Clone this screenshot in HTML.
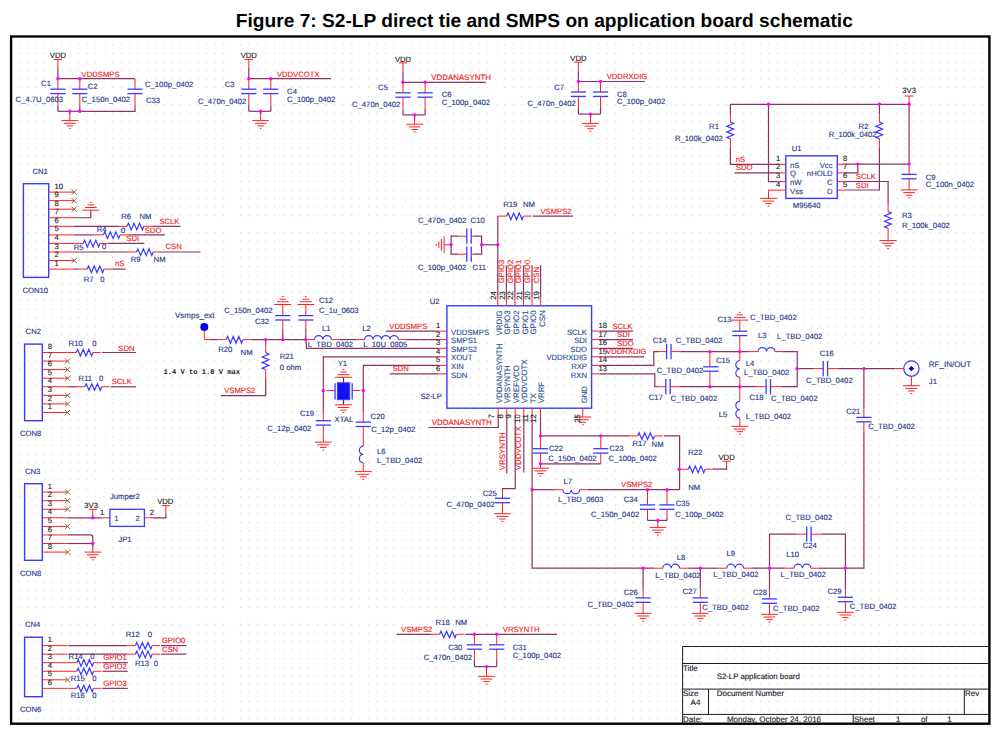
<!DOCTYPE html>
<html><head><meta charset="utf-8"><title>Figure 7</title>
<style>
html,body{margin:0;padding:0;background:#fff}
svg{display:block}
svg text{font-family:"Liberation Sans",Arial,sans-serif;font-size:7.7px;stroke-width:0.14px;paint-order:stroke;text-rendering:geometricPrecision}
</style></head><body>
<svg width="999" height="733" viewBox="0 0 999 733">
<defs><pattern id="g" x="18.4" y="44.4" width="8.522" height="8.525" patternUnits="userSpaceOnUse"><rect x="0" y="0" width="1.1" height="1.1" fill="#d2d2d2"/></pattern></defs>
<rect width="999" height="733" fill="#fff"/>
<rect x="18" y="44" width="965.5" height="675.5" fill="url(#g)"/>
<text x="235.8" y="26.6" style="font-size:19px;font-weight:bold;stroke-width:0" fill="#000" textLength="617" lengthAdjust="spacingAndGlyphs">Figure 7: S2-LP direct tie and SMPS on application board schematic</text>
<rect x="11.1" y="36.5" width="978.3" height="687.2" fill="none" stroke="#000" stroke-width="2.4"/>
<path d="M682.6 723 L682.6 646.5 L988.5 646.5" stroke="#1a1a1a" stroke-width="1" fill="none"/>
<path d="M682.6 663.5 L988.5 663.5" stroke="#1a1a1a" stroke-width="1" fill="none"/>
<path d="M682.6 689.1 L988.5 689.1" stroke="#1a1a1a" stroke-width="1" fill="none"/>
<path d="M682.6 714.4 L988.5 714.4" stroke="#1a1a1a" stroke-width="1" fill="none"/>
<path d="M708.5 689.1 L708.5 714.4" stroke="#1a1a1a" stroke-width="1" fill="none"/>
<path d="M964.3 689.1 L964.3 714.4" stroke="#1a1a1a" stroke-width="1" fill="none"/>
<path d="M853.2 714.4 L853.2 723" stroke="#1a1a1a" stroke-width="1" fill="none"/>
<text x="683" y="670.8" fill="#1c1c30" stroke="#1c1c30" style="font-size:8px">Title</text>
<text x="716.7" y="678.5" fill="#1c1c30" stroke="#1c1c30" style="font-size:7.8px">S2-LP application board</text>
<text x="683" y="696.4" fill="#1c1c30" stroke="#1c1c30" style="font-size:8px">Size</text>
<text x="690.6" y="704.9" fill="#1c1c30" stroke="#1c1c30" style="font-size:8px">A4</text>
<text x="716.7" y="696.4" fill="#1c1c30" stroke="#1c1c30" style="font-size:8px">Document Number</text>
<text x="965" y="696.4" fill="#1c1c30" stroke="#1c1c30" style="font-size:8px">Rev</text>
<text x="683" y="721.9" fill="#1c1c30" stroke="#1c1c30" style="font-size:8px">Date:</text>
<text x="726.9" y="721.9" fill="#1c1c30" stroke="#1c1c30" style="font-size:8px">Monday, October 24, 2016</text>
<text x="853.9" y="721.9" fill="#1c1c30" stroke="#1c1c30" style="font-size:8px">Sheet</text>
<text x="895.9" y="721.9" fill="#1c1c30" stroke="#1c1c30" style="font-size:8px">1</text>
<text x="920.9" y="721.9" fill="#1c1c30" stroke="#1c1c30" style="font-size:8px">of</text>
<text x="947.3" y="721.9" fill="#1c1c30" stroke="#1c1c30" style="font-size:8px">1</text>
<path d="M53.8 59.5 L62 59.5" stroke="#ff2020" stroke-width="1" fill="none"/>
<path d="M57.9 59.5 L57.9 68.1" stroke="#ff2020" stroke-width="1" fill="none"/>
<text x="57.9" y="58.1" text-anchor="middle" fill="#222" stroke="#222" stroke-width="0.06">VDD</text>
<path d="M57.9 68.1 L57.9 78.7" stroke="#8a3262" stroke-width="1.2" fill="none"/>
<path d="M57.9 78.7 L135 78.7" stroke="#8a3262" stroke-width="1.2" fill="none"/>
<path d="M57.9 78.7 L57.9 89.2" stroke="#ff2020" stroke-width="1" fill="none"/>
<path d="M50.3 89.2 L65.5 89.2" stroke="#3a3aff" stroke-width="1.3" fill="none"/>
<path d="M50.3 93.6 L65.5 93.6" stroke="#3a3aff" stroke-width="1.3" fill="none"/>
<path d="M57.9 93.6 L57.9 105.2" stroke="#ff2020" stroke-width="1" fill="none"/>
<path d="M57.9 105.2 L57.9 111.3" stroke="#8a3262" stroke-width="1.2" fill="none"/>
<path d="M79.8 78.7 L79.8 89.2" stroke="#ff2020" stroke-width="1" fill="none"/>
<path d="M72.2 89.2 L87.4 89.2" stroke="#3a3aff" stroke-width="1.3" fill="none"/>
<path d="M72.2 93.6 L87.4 93.6" stroke="#3a3aff" stroke-width="1.3" fill="none"/>
<path d="M79.8 93.6 L79.8 105.2" stroke="#ff2020" stroke-width="1" fill="none"/>
<path d="M79.8 105.2 L79.8 111.3" stroke="#8a3262" stroke-width="1.2" fill="none"/>
<path d="M57.9 111.3 L79.8 111.3" stroke="#8a3262" stroke-width="1.2" fill="none"/>
<path d="M69.8 111.3 L69.8 115.3" stroke="#8a3262" stroke-width="1.2" fill="none"/>
<path d="M69.8 115.3 L69.8 120.6" stroke="#ff2020" stroke-width="1" fill="none"/>
<path d="M61.4 120.6 L78.2 120.6" stroke="#ff2020" stroke-width="1" fill="none"/>
<path d="M64 123.3 L75.6 123.3" stroke="#ff2020" stroke-width="1" fill="none"/>
<path d="M66.6 125.9 L73 125.9" stroke="#ff2020" stroke-width="1" fill="none"/>
<path d="M68.9 128.4 L70.7 128.4" stroke="#ff2020" stroke-width="1" fill="none"/>
<path d="M135 78.7 L135 89.2" stroke="#ff2020" stroke-width="1" fill="none"/>
<path d="M127.4 89.2 L142.6 89.2" stroke="#3a3aff" stroke-width="1.3" fill="none"/>
<path d="M127.4 93.6 L142.6 93.6" stroke="#3a3aff" stroke-width="1.3" fill="none"/>
<path d="M135 93.6 L135 105.2" stroke="#ff2020" stroke-width="1" fill="none"/>
<path d="M135 105.2 L135 111.3 L79.8 111.3" stroke="#8a3262" stroke-width="1.2" fill="none"/>
<text x="41.1" y="86.2" fill="#26368a" stroke="#26368a">C1</text>
<text x="87.8" y="88.6" fill="#26368a" stroke="#26368a">C2</text>
<text x="81.6" y="76.7" fill="#f02222" stroke="#f02222">VDDSMPS</text>
<text x="15.6" y="102.2" fill="#26368a" stroke="#26368a">C_4.7U_0603</text>
<text x="81.8" y="102.2" fill="#26368a" stroke="#26368a">C_150n_0402</text>
<text x="145" y="86.8" fill="#26368a" stroke="#26368a">C_100p_0402</text>
<text x="146" y="103.2" fill="#26368a" stroke="#26368a">C33</text>
<path d="M244.7 59.5 L252.9 59.5" stroke="#ff2020" stroke-width="1" fill="none"/>
<path d="M248.8 59.5 L248.8 68.1" stroke="#ff2020" stroke-width="1" fill="none"/>
<text x="248.8" y="58.1" text-anchor="middle" fill="#222" stroke="#222" stroke-width="0.06">VDD</text>
<path d="M248.8 68.1 L248.8 78.7" stroke="#8a3262" stroke-width="1.2" fill="none"/>
<path d="M248.8 78.7 L331 78.7" stroke="#8a3262" stroke-width="1.2" fill="none"/>
<path d="M248.8 78.7 L248.8 89.2" stroke="#ff2020" stroke-width="1" fill="none"/>
<path d="M241.2 89.2 L256.4 89.2" stroke="#3a3aff" stroke-width="1.3" fill="none"/>
<path d="M241.2 93.6 L256.4 93.6" stroke="#3a3aff" stroke-width="1.3" fill="none"/>
<path d="M248.8 93.6 L248.8 105.2" stroke="#ff2020" stroke-width="1" fill="none"/>
<path d="M248.8 105.2 L248.8 111.3" stroke="#8a3262" stroke-width="1.2" fill="none"/>
<path d="M270.8 78.7 L270.8 89.2" stroke="#ff2020" stroke-width="1" fill="none"/>
<path d="M263.2 89.2 L278.4 89.2" stroke="#3a3aff" stroke-width="1.3" fill="none"/>
<path d="M263.2 93.6 L278.4 93.6" stroke="#3a3aff" stroke-width="1.3" fill="none"/>
<path d="M270.8 93.6 L270.8 105.2" stroke="#ff2020" stroke-width="1" fill="none"/>
<path d="M270.8 105.2 L270.8 111.3" stroke="#8a3262" stroke-width="1.2" fill="none"/>
<path d="M248.8 111.3 L270.8 111.3" stroke="#8a3262" stroke-width="1.2" fill="none"/>
<path d="M260.6 111.3 L260.6 115.3" stroke="#8a3262" stroke-width="1.2" fill="none"/>
<path d="M260.6 115.3 L260.6 120.6" stroke="#ff2020" stroke-width="1" fill="none"/>
<path d="M252.2 120.6 L269 120.6" stroke="#ff2020" stroke-width="1" fill="none"/>
<path d="M254.8 123.3 L266.4 123.3" stroke="#ff2020" stroke-width="1" fill="none"/>
<path d="M257.4 125.9 L263.8 125.9" stroke="#ff2020" stroke-width="1" fill="none"/>
<path d="M259.7 128.4 L261.5 128.4" stroke="#ff2020" stroke-width="1" fill="none"/>
<text x="276.9" y="76.7" fill="#f02222" stroke="#f02222">VDDVCOTX</text>
<text x="224.7" y="86.8" fill="#26368a" stroke="#26368a">C3</text>
<text x="287.1" y="93.8" fill="#26368a" stroke="#26368a">C4</text>
<text x="287.1" y="102.2" fill="#26368a" stroke="#26368a">C_100p_0402</text>
<text x="198" y="103.8" fill="#26368a" stroke="#26368a">C_470n_0402</text>
<path d="M398.9 62.9 L407.1 62.9" stroke="#ff2020" stroke-width="1" fill="none"/>
<path d="M403 62.9 L403 71.5" stroke="#ff2020" stroke-width="1" fill="none"/>
<text x="403" y="61.5" text-anchor="middle" fill="#222" stroke="#222" stroke-width="0.06">VDD</text>
<path d="M403 71.5 L403 82.3" stroke="#8a3262" stroke-width="1.2" fill="none"/>
<path d="M403 82.3 L485.8 82.3" stroke="#8a3262" stroke-width="1.2" fill="none"/>
<path d="M403 82.3 L403 92.8" stroke="#ff2020" stroke-width="1" fill="none"/>
<path d="M395.4 92.8 L410.6 92.8" stroke="#3a3aff" stroke-width="1.3" fill="none"/>
<path d="M395.4 97.2 L410.6 97.2" stroke="#3a3aff" stroke-width="1.3" fill="none"/>
<path d="M403 97.2 L403 108.8" stroke="#ff2020" stroke-width="1" fill="none"/>
<path d="M403 108.8 L403 114.9" stroke="#8a3262" stroke-width="1.2" fill="none"/>
<path d="M425.1 82.3 L425.1 92.8" stroke="#ff2020" stroke-width="1" fill="none"/>
<path d="M417.5 92.8 L432.7 92.8" stroke="#3a3aff" stroke-width="1.3" fill="none"/>
<path d="M417.5 97.2 L432.7 97.2" stroke="#3a3aff" stroke-width="1.3" fill="none"/>
<path d="M425.1 97.2 L425.1 108.8" stroke="#ff2020" stroke-width="1" fill="none"/>
<path d="M425.1 108.8 L425.1 114.9" stroke="#8a3262" stroke-width="1.2" fill="none"/>
<path d="M403 114.9 L425.1 114.9" stroke="#8a3262" stroke-width="1.2" fill="none"/>
<path d="M414.6 114.9 L414.6 118.9" stroke="#8a3262" stroke-width="1.2" fill="none"/>
<path d="M414.6 118.9 L414.6 124.2" stroke="#ff2020" stroke-width="1" fill="none"/>
<path d="M406.2 124.2 L423 124.2" stroke="#ff2020" stroke-width="1" fill="none"/>
<path d="M408.8 126.9 L420.4 126.9" stroke="#ff2020" stroke-width="1" fill="none"/>
<path d="M411.4 129.5 L417.8 129.5" stroke="#ff2020" stroke-width="1" fill="none"/>
<path d="M413.7 132 L415.5 132" stroke="#ff2020" stroke-width="1" fill="none"/>
<text x="431.3" y="80.1" fill="#f02222" stroke="#f02222" style="font-size:7.9px">VDDANASYNTH</text>
<text x="378.1" y="90.2" fill="#26368a" stroke="#26368a">C5</text>
<text x="441.7" y="97.4" fill="#26368a" stroke="#26368a">C6</text>
<text x="441.7" y="105.2" fill="#26368a" stroke="#26368a">C_100p_0402</text>
<text x="352" y="107.2" fill="#26368a" stroke="#26368a">C_470n_0402</text>
<path d="M574.3 62.1 L582.5 62.1" stroke="#ff2020" stroke-width="1" fill="none"/>
<path d="M578.4 62.1 L578.4 70.7" stroke="#ff2020" stroke-width="1" fill="none"/>
<text x="578.4" y="60.7" text-anchor="middle" fill="#222" stroke="#222" stroke-width="0.06">VDD</text>
<path d="M578.4 70.7 L578.4 81.5" stroke="#8a3262" stroke-width="1.2" fill="none"/>
<path d="M578.4 81.5 L644.8 81.5" stroke="#8a3262" stroke-width="1.2" fill="none"/>
<path d="M578.4 81.5 L578.4 92" stroke="#ff2020" stroke-width="1" fill="none"/>
<path d="M570.8 92 L586 92" stroke="#3a3aff" stroke-width="1.3" fill="none"/>
<path d="M570.8 96.4 L586 96.4" stroke="#3a3aff" stroke-width="1.3" fill="none"/>
<path d="M578.4 96.4 L578.4 108" stroke="#ff2020" stroke-width="1" fill="none"/>
<path d="M578.4 108 L578.4 114.1" stroke="#8a3262" stroke-width="1.2" fill="none"/>
<path d="M600.5 81.5 L600.5 92" stroke="#ff2020" stroke-width="1" fill="none"/>
<path d="M592.9 92 L608.1 92" stroke="#3a3aff" stroke-width="1.3" fill="none"/>
<path d="M592.9 96.4 L608.1 96.4" stroke="#3a3aff" stroke-width="1.3" fill="none"/>
<path d="M600.5 96.4 L600.5 108" stroke="#ff2020" stroke-width="1" fill="none"/>
<path d="M600.5 108 L600.5 114.1" stroke="#8a3262" stroke-width="1.2" fill="none"/>
<path d="M578.4 114.1 L600.5 114.1" stroke="#8a3262" stroke-width="1.2" fill="none"/>
<path d="M590.5 114.1 L590.5 118.1" stroke="#8a3262" stroke-width="1.2" fill="none"/>
<path d="M590.5 118.1 L590.5 123.4" stroke="#ff2020" stroke-width="1" fill="none"/>
<path d="M582.1 123.4 L598.9 123.4" stroke="#ff2020" stroke-width="1" fill="none"/>
<path d="M584.7 126.1 L596.3 126.1" stroke="#ff2020" stroke-width="1" fill="none"/>
<path d="M587.3 128.7 L593.7 128.7" stroke="#ff2020" stroke-width="1" fill="none"/>
<path d="M589.6 131.2 L591.4 131.2" stroke="#ff2020" stroke-width="1" fill="none"/>
<text x="606.7" y="79.1" fill="#f02222" stroke="#f02222">VDDRXDIG</text>
<text x="554.2" y="89.6" fill="#26368a" stroke="#26368a">C7</text>
<text x="617" y="96.8" fill="#26368a" stroke="#26368a">C8</text>
<text x="617" y="104.2" fill="#26368a" stroke="#26368a">C_100p_0402</text>
<text x="527.5" y="106.2" fill="#26368a" stroke="#26368a">C_470n_0402</text>
<path d="M905 96 L913.2 96" stroke="#ff2020" stroke-width="1" fill="none"/>
<path d="M909.1 96 L909.1 104.3" stroke="#ff2020" stroke-width="1" fill="none"/>
<text x="909.1" y="93" text-anchor="middle" fill="#222" stroke="#222" stroke-width="0.06">3V3</text>
<path d="M730.4 114.1 L730.4 104.3 L909.1 104.3 L909.1 164.1" stroke="#8a3262" stroke-width="1.2" fill="none"/>
<path d="M730.4 114.1 L730.4 122.1" stroke="#ff2020" stroke-width="1" fill="none"/>
<path d="M730.4 122.1 L733.56 123.5 L726.83 126.3 L733.56 129.1 L726.83 131.9 L733.56 134.7 L726.83 137.5 L730.4 138.8" stroke="#3a3aff" stroke-width="1.2" fill="none"/>
<path d="M730.4 138.8 L730.4 147.2" stroke="#ff2020" stroke-width="1" fill="none"/>
<path d="M730.4 147.2 L730.4 164.3 L777.4 164.3" stroke="#8a3262" stroke-width="1.2" fill="none"/>
<path d="M734.6 172.9 L777.4 172.9" stroke="#8a3262" stroke-width="1.2" fill="none"/>
<path d="M768.5 104.3 L768.5 181.6 L777.4 181.6" stroke="#8a3262" stroke-width="1.2" fill="none"/>
<path d="M777.4 190.1 L768.5 190.1 L768.5 198.4" stroke="#ff2020" stroke-width="1" fill="none"/>
<path d="M760.1 198.4 L776.9 198.4" stroke="#ff2020" stroke-width="1" fill="none"/>
<path d="M762.7 201.1 L774.3 201.1" stroke="#ff2020" stroke-width="1" fill="none"/>
<path d="M765.3 203.7 L771.7 203.7" stroke="#ff2020" stroke-width="1" fill="none"/>
<path d="M767.6 206.2 L769.4 206.2" stroke="#ff2020" stroke-width="1" fill="none"/>
<rect x="785.8" y="155.8" width="51.5" height="42.6" stroke="#3a3aff" stroke-width="1.4" fill="none"/>
<path d="M777.4 164.3 L785.8 164.3" stroke="#ff2020" stroke-width="1" fill="none"/>
<path d="M837.3 164.3 L845.7 164.3" stroke="#ff2020" stroke-width="1" fill="none"/>
<text x="776" y="160.8" fill="#222" stroke="#222" stroke-width="0.06">1</text>
<text x="843" y="160.8" fill="#222" stroke="#222" stroke-width="0.06">8</text>
<text x="790" y="167.7" fill="#2c4a90" stroke="#2c4a90">nS</text>
<text x="832.5" y="167.7" text-anchor="end" fill="#2c4a90" stroke="#2c4a90">Vcc</text>
<path d="M777.4 172.9 L785.8 172.9" stroke="#ff2020" stroke-width="1" fill="none"/>
<path d="M837.3 172.9 L845.7 172.9" stroke="#ff2020" stroke-width="1" fill="none"/>
<text x="776" y="169.4" fill="#222" stroke="#222" stroke-width="0.06">2</text>
<text x="843" y="169.4" fill="#222" stroke="#222" stroke-width="0.06">7</text>
<text x="790" y="176.3" fill="#2c4a90" stroke="#2c4a90">Q</text>
<text x="832.5" y="176.3" text-anchor="end" fill="#2c4a90" stroke="#2c4a90">nHOLD</text>
<path d="M777.4 181.6 L785.8 181.6" stroke="#ff2020" stroke-width="1" fill="none"/>
<path d="M837.3 181.6 L845.7 181.6" stroke="#ff2020" stroke-width="1" fill="none"/>
<text x="776" y="178.1" fill="#222" stroke="#222" stroke-width="0.06">3</text>
<text x="843" y="178.1" fill="#222" stroke="#222" stroke-width="0.06">6</text>
<text x="790" y="185" fill="#2c4a90" stroke="#2c4a90">nW</text>
<text x="832.5" y="185" text-anchor="end" fill="#2c4a90" stroke="#2c4a90">C</text>
<path d="M777.4 190.1 L785.8 190.1" stroke="#ff2020" stroke-width="1" fill="none"/>
<path d="M837.3 190.1 L845.7 190.1" stroke="#ff2020" stroke-width="1" fill="none"/>
<text x="776" y="186.6" fill="#222" stroke="#222" stroke-width="0.06">4</text>
<text x="843" y="186.6" fill="#222" stroke="#222" stroke-width="0.06">5</text>
<text x="790" y="193.5" fill="#2c4a90" stroke="#2c4a90">Vss</text>
<text x="832.5" y="193.5" text-anchor="end" fill="#2c4a90" stroke="#2c4a90">D</text>
<text x="791.8" y="151.2" fill="#26368a" stroke="#26368a">U1</text>
<text x="792.8" y="208.4" fill="#26368a" stroke="#26368a">M95640</text>
<text x="735.8" y="161.8" fill="#f02222" stroke="#f02222">nS</text>
<text x="735.8" y="170.3" fill="#f02222" stroke="#f02222">SDO</text>
<text x="709.1" y="128.7" fill="#26368a" stroke="#26368a">R1</text>
<text x="675" y="141.4" fill="#26368a" stroke="#26368a">R_100k_0402</text>
<path d="M845.7 164.1 L909.1 164.1" stroke="#8a3262" stroke-width="1.2" fill="none"/>
<path d="M857.8 164.1 L857.8 172.8 L845.7 172.8" stroke="#8a3262" stroke-width="1.2" fill="none"/>
<path d="M845.7 181.5 L888.1 181.5 L888.1 203.7" stroke="#8a3262" stroke-width="1.2" fill="none"/>
<path d="M845.7 190 L879.4 190 L879.4 147.2" stroke="#8a3262" stroke-width="1.2" fill="none"/>
<path d="M879.4 104.3 L879.4 114.1" stroke="#8a3262" stroke-width="1.2" fill="none"/>
<path d="M879.4 114.1 L879.4 122.1" stroke="#ff2020" stroke-width="1" fill="none"/>
<path d="M879.4 122.1 L882.56 123.5 L875.83 126.3 L882.56 129.1 L875.83 131.9 L882.56 134.7 L875.83 137.5 L879.4 138.8" stroke="#3a3aff" stroke-width="1.2" fill="none"/>
<path d="M879.4 138.8 L879.4 147.2" stroke="#ff2020" stroke-width="1" fill="none"/>
<path d="M888.1 203.7 L888.1 211.5" stroke="#ff2020" stroke-width="1" fill="none"/>
<path d="M888.1 211.5 L891.26 212.9 L884.53 215.7 L891.26 218.5 L884.53 221.3 L891.26 224.1 L884.53 226.9 L888.1 228.2" stroke="#3a3aff" stroke-width="1.2" fill="none"/>
<path d="M888.1 228.2 L888.1 240.6" stroke="#ff2020" stroke-width="1" fill="none"/>
<path d="M879.7 240.6 L896.5 240.6" stroke="#ff2020" stroke-width="1" fill="none"/>
<path d="M882.3 243.3 L893.9 243.3" stroke="#ff2020" stroke-width="1" fill="none"/>
<path d="M884.9 245.9 L891.3 245.9" stroke="#ff2020" stroke-width="1" fill="none"/>
<path d="M887.2 248.4 L889 248.4" stroke="#ff2020" stroke-width="1" fill="none"/>
<path d="M909.1 164.1 L909.1 174.4" stroke="#ff2020" stroke-width="1" fill="none"/>
<path d="M901.5 174.4 L916.7 174.4" stroke="#3a3aff" stroke-width="1.3" fill="none"/>
<path d="M901.5 178.8 L916.7 178.8" stroke="#3a3aff" stroke-width="1.3" fill="none"/>
<path d="M909.1 178.8 L909.1 189.9" stroke="#ff2020" stroke-width="1" fill="none"/>
<path d="M900.7 189.9 L917.5 189.9" stroke="#ff2020" stroke-width="1" fill="none"/>
<path d="M903.3 192.6 L914.9 192.6" stroke="#ff2020" stroke-width="1" fill="none"/>
<path d="M905.9 195.2 L912.3 195.2" stroke="#ff2020" stroke-width="1" fill="none"/>
<path d="M908.2 197.7 L910 197.7" stroke="#ff2020" stroke-width="1" fill="none"/>
<text x="855.8" y="179.1" fill="#f02222" stroke="#f02222">SCLK</text>
<text x="855.8" y="187.5" fill="#f02222" stroke="#f02222">SDI</text>
<text x="858.6" y="128.7" fill="#26368a" stroke="#26368a">R2</text>
<text x="828.7" y="137" fill="#26368a" stroke="#26368a">R_100k_0402</text>
<text x="925.8" y="179.7" fill="#26368a" stroke="#26368a">C9</text>
<text x="925.8" y="187.3" fill="#26368a" stroke="#26368a">C_100n_0402</text>
<text x="901.9" y="218.2" fill="#26368a" stroke="#26368a">R3</text>
<text x="901.9" y="228.1" fill="#26368a" stroke="#26368a">R_100k_0402</text>
<rect x="23.4" y="183.7" width="25.3" height="93.7" stroke="#3a3aff" stroke-width="1.4" fill="none"/>
<path d="M48.7 192.1 L74.2 192.1" stroke="#ff2020" stroke-width="1" fill="none"/>
<text x="54.5" y="188.7" fill="#222" stroke="#222" stroke-width="0.06">10</text>
<path d="M71.6 189.5 L76.8 194.7" stroke="#7a5a20" stroke-width="0.9" fill="none"/>
<path d="M71.6 194.7 L76.8 189.5" stroke="#7a5a20" stroke-width="0.9" fill="none"/>
<path d="M48.7 200.66 L74.2 200.66" stroke="#ff2020" stroke-width="1" fill="none"/>
<text x="54.5" y="197.25" fill="#222" stroke="#222" stroke-width="0.06">9</text>
<path d="M71.6 198.06 L76.8 203.25" stroke="#7a5a20" stroke-width="0.9" fill="none"/>
<path d="M71.6 203.25 L76.8 198.06" stroke="#7a5a20" stroke-width="0.9" fill="none"/>
<path d="M48.7 209.21 L74.2 209.21" stroke="#ff2020" stroke-width="1" fill="none"/>
<text x="54.5" y="205.81" fill="#222" stroke="#222" stroke-width="0.06">8</text>
<path d="M71.6 206.61 L76.8 211.81" stroke="#7a5a20" stroke-width="0.9" fill="none"/>
<path d="M71.6 211.81 L76.8 206.61" stroke="#7a5a20" stroke-width="0.9" fill="none"/>
<path d="M48.7 217.76 L74.2 217.76" stroke="#ff2020" stroke-width="1" fill="none"/>
<text x="54.5" y="214.36" fill="#222" stroke="#222" stroke-width="0.06">7</text>
<path d="M48.7 226.32 L74.2 226.32" stroke="#ff2020" stroke-width="1" fill="none"/>
<text x="54.5" y="222.92" fill="#222" stroke="#222" stroke-width="0.06">6</text>
<path d="M48.7 234.88 L74.2 234.88" stroke="#ff2020" stroke-width="1" fill="none"/>
<text x="54.5" y="231.47" fill="#222" stroke="#222" stroke-width="0.06">5</text>
<path d="M48.7 243.43 L74.2 243.43" stroke="#ff2020" stroke-width="1" fill="none"/>
<text x="54.5" y="240.03" fill="#222" stroke="#222" stroke-width="0.06">4</text>
<path d="M48.7 251.98 L74.2 251.98" stroke="#ff2020" stroke-width="1" fill="none"/>
<text x="54.5" y="248.58" fill="#222" stroke="#222" stroke-width="0.06">3</text>
<path d="M48.7 260.54 L74.2 260.54" stroke="#ff2020" stroke-width="1" fill="none"/>
<text x="54.5" y="257.14" fill="#222" stroke="#222" stroke-width="0.06">2</text>
<path d="M71.6 257.94 L76.8 263.14" stroke="#7a5a20" stroke-width="0.9" fill="none"/>
<path d="M71.6 263.14 L76.8 257.94" stroke="#7a5a20" stroke-width="0.9" fill="none"/>
<path d="M48.7 269.1 L74.2 269.1" stroke="#ff2020" stroke-width="1" fill="none"/>
<text x="54.5" y="265.7" fill="#222" stroke="#222" stroke-width="0.06">1</text>
<text x="32.5" y="173.6" fill="#26368a" stroke="#26368a">CN1</text>
<text x="22.4" y="293" fill="#26368a" stroke="#26368a">CON10</text>
<path d="M74.2 217.76 L90.8 217.76 L90.8 210.2" stroke="#8a3262" stroke-width="1.2" fill="none"/>
<path d="M82.4 210.2 L99.2 210.2" stroke="#ff2020" stroke-width="1" fill="none"/>
<path d="M85 207.5 L96.6 207.5" stroke="#ff2020" stroke-width="1" fill="none"/>
<path d="M87.6 204.9 L94 204.9" stroke="#ff2020" stroke-width="1" fill="none"/>
<path d="M89.9 202.4 L91.7 202.4" stroke="#ff2020" stroke-width="1" fill="none"/>
<path d="M74.2 226.32 L119.3 226.32" stroke="#8a3262" stroke-width="1.2" fill="none"/>
<path d="M119.3 226.32 L127 226.32" stroke="#ff2020" stroke-width="1" fill="none"/>
<path d="M127 226.32 L128.4 223.22 L131.2 229.82 L134 223.22 L136.8 229.82 L139.6 223.22 L142.4 229.82 L143.7 226.32" stroke="#3a3aff" stroke-width="1.2" fill="none"/>
<path d="M143.7 226.32 L151.4 226.32" stroke="#ff2020" stroke-width="1" fill="none"/>
<path d="M151.4 226.32 L180.5 226.32" stroke="#8a3262" stroke-width="1.2" fill="none"/>
<text x="159.4" y="224.2" fill="#f02222" stroke="#f02222">SCLK</text>
<text x="121.3" y="218.8" fill="#26368a" stroke="#26368a">R6</text>
<text x="139.4" y="218.8" fill="#26368a" stroke="#26368a">NM</text>
<path d="M74.2 234.88 L94.3 234.88" stroke="#8a3262" stroke-width="1.2" fill="none"/>
<path d="M94.3 234.88 L103.3 234.88" stroke="#ff2020" stroke-width="1" fill="none"/>
<path d="M103.3 234.88 L104.7 231.78 L107.5 238.38 L110.3 231.78 L113.1 238.38 L115.9 231.78 L118.7 238.38 L120 234.88" stroke="#3a3aff" stroke-width="1.2" fill="none"/>
<path d="M120 234.88 L128.4 234.88" stroke="#ff2020" stroke-width="1" fill="none"/>
<path d="M128.4 234.88 L164.9 234.88" stroke="#8a3262" stroke-width="1.2" fill="none"/>
<text x="144.8" y="232.6" fill="#f02222" stroke="#f02222">SDO</text>
<text x="96.7" y="232.2" fill="#26368a" stroke="#26368a">R4</text>
<text x="120.9" y="232.6" fill="#26368a" stroke="#26368a">0</text>
<path d="M74.2 243.43 L83.2 243.43" stroke="#ff2020" stroke-width="1" fill="none"/>
<path d="M83.2 243.43 L84.6 240.33 L87.4 246.93 L90.2 240.33 L93 246.93 L95.8 240.33 L98.6 246.93 L99.9 243.43" stroke="#3a3aff" stroke-width="1.2" fill="none"/>
<path d="M99.9 243.43 L108.3 243.43" stroke="#ff2020" stroke-width="1" fill="none"/>
<path d="M108.3 243.43 L144.4 243.43" stroke="#8a3262" stroke-width="1.2" fill="none"/>
<text x="126.3" y="240.8" fill="#f02222" stroke="#f02222">SDI</text>
<text x="73.8" y="250.3" fill="#26368a" stroke="#26368a">R5</text>
<text x="101.9" y="249.3" fill="#26368a" stroke="#26368a">0</text>
<path d="M74.2 251.98 L128.4 251.98" stroke="#8a3262" stroke-width="1.2" fill="none"/>
<path d="M128.4 251.98 L136.4 251.98" stroke="#ff2020" stroke-width="1" fill="none"/>
<path d="M136.4 251.98 L137.8 248.88 L140.6 255.48 L143.4 248.88 L146.2 255.48 L149 248.88 L151.8 255.48 L153.1 251.98" stroke="#3a3aff" stroke-width="1.2" fill="none"/>
<path d="M153.1 251.98 L161.5 251.98" stroke="#ff2020" stroke-width="1" fill="none"/>
<path d="M161.5 251.98 L200.6 251.98" stroke="#8a3262" stroke-width="1.2" fill="none"/>
<text x="165.5" y="249.3" fill="#f02222" stroke="#f02222">CSN</text>
<text x="130.8" y="262.3" fill="#26368a" stroke="#26368a">R9</text>
<text x="153.6" y="262" fill="#26368a" stroke="#26368a">NM</text>
<path d="M74.2 269.1 L79.2 269.1" stroke="#8a3262" stroke-width="1.2" fill="none"/>
<path d="M79.2 269.1 L87.2 269.1" stroke="#ff2020" stroke-width="1" fill="none"/>
<path d="M87.2 269.1 L88.6 266 L91.4 272.6 L94.2 266 L97 272.6 L99.8 266 L102.6 272.6 L103.9 269.1" stroke="#3a3aff" stroke-width="1.2" fill="none"/>
<path d="M103.9 269.1 L112.3 269.1" stroke="#ff2020" stroke-width="1" fill="none"/>
<path d="M112.3 269.1 L125.7 269.1" stroke="#8a3262" stroke-width="1.2" fill="none"/>
<text x="114.9" y="266.3" fill="#f02222" stroke="#f02222">nS</text>
<text x="83.8" y="282" fill="#26368a" stroke="#26368a">R7</text>
<text x="100.3" y="282" fill="#26368a" stroke="#26368a">0</text>
<rect x="24.6" y="344.1" width="17.7" height="76.6" stroke="#3a3aff" stroke-width="1.4" fill="none"/>
<path d="M42.3 352.5 L67.6 352.5" stroke="#ff2020" stroke-width="1" fill="none"/>
<text x="47.7" y="349.1" fill="#222" stroke="#222" stroke-width="0.06">8</text>
<path d="M42.3 361.07 L67.6 361.07" stroke="#ff2020" stroke-width="1" fill="none"/>
<text x="47.7" y="357.67" fill="#222" stroke="#222" stroke-width="0.06">7</text>
<path d="M65 358.47 L70.2 363.67" stroke="#7a5a20" stroke-width="0.9" fill="none"/>
<path d="M65 363.67 L70.2 358.47" stroke="#7a5a20" stroke-width="0.9" fill="none"/>
<path d="M42.3 369.64 L67.6 369.64" stroke="#ff2020" stroke-width="1" fill="none"/>
<text x="47.7" y="366.24" fill="#222" stroke="#222" stroke-width="0.06">6</text>
<path d="M65 367.04 L70.2 372.24" stroke="#7a5a20" stroke-width="0.9" fill="none"/>
<path d="M65 372.24 L70.2 367.04" stroke="#7a5a20" stroke-width="0.9" fill="none"/>
<path d="M42.3 378.21 L67.6 378.21" stroke="#ff2020" stroke-width="1" fill="none"/>
<text x="47.7" y="374.81" fill="#222" stroke="#222" stroke-width="0.06">5</text>
<path d="M65 375.61 L70.2 380.81" stroke="#7a5a20" stroke-width="0.9" fill="none"/>
<path d="M65 380.81 L70.2 375.61" stroke="#7a5a20" stroke-width="0.9" fill="none"/>
<path d="M42.3 386.78 L67.6 386.78" stroke="#ff2020" stroke-width="1" fill="none"/>
<text x="47.7" y="383.38" fill="#222" stroke="#222" stroke-width="0.06">4</text>
<path d="M42.3 395.35 L67.6 395.35" stroke="#ff2020" stroke-width="1" fill="none"/>
<text x="47.7" y="391.95" fill="#222" stroke="#222" stroke-width="0.06">3</text>
<path d="M65 392.75 L70.2 397.95" stroke="#7a5a20" stroke-width="0.9" fill="none"/>
<path d="M65 397.95 L70.2 392.75" stroke="#7a5a20" stroke-width="0.9" fill="none"/>
<path d="M42.3 403.92 L67.6 403.92" stroke="#ff2020" stroke-width="1" fill="none"/>
<text x="47.7" y="400.52" fill="#222" stroke="#222" stroke-width="0.06">2</text>
<path d="M65 401.32 L70.2 406.52" stroke="#7a5a20" stroke-width="0.9" fill="none"/>
<path d="M65 406.52 L70.2 401.32" stroke="#7a5a20" stroke-width="0.9" fill="none"/>
<path d="M42.3 412.49 L67.6 412.49" stroke="#ff2020" stroke-width="1" fill="none"/>
<text x="47.7" y="409.09" fill="#222" stroke="#222" stroke-width="0.06">1</text>
<path d="M65 409.89 L70.2 415.09" stroke="#7a5a20" stroke-width="0.9" fill="none"/>
<path d="M65 415.09 L70.2 409.89" stroke="#7a5a20" stroke-width="0.9" fill="none"/>
<text x="25.6" y="334.1" fill="#26368a" stroke="#26368a">CN2</text>
<text x="20" y="436.4" fill="#26368a" stroke="#26368a">CON8</text>
<path d="M67.6 352.5 L76.2 352.5" stroke="#ff2020" stroke-width="1" fill="none"/>
<path d="M76.2 352.5 L77.6 349.4 L80.4 356 L83.2 349.4 L86 356 L88.8 349.4 L91.6 356 L92.9 352.5" stroke="#3a3aff" stroke-width="1.2" fill="none"/>
<path d="M92.9 352.5 L100.7 352.5" stroke="#ff2020" stroke-width="1" fill="none"/>
<path d="M102 352.5 L136 352.5" stroke="#8a3262" stroke-width="1.2" fill="none"/>
<text x="118.3" y="350.5" fill="#f02222" stroke="#f02222">SDN</text>
<text x="68.6" y="346.1" fill="#26368a" stroke="#26368a">R10</text>
<text x="92.2" y="346.1" fill="#26368a" stroke="#26368a">0</text>
<path d="M67.6 386.78 L77.2 386.78" stroke="#8a3262" stroke-width="1.2" fill="none"/>
<path d="M77.2 386.78 L84.8 386.78" stroke="#ff2020" stroke-width="1" fill="none"/>
<path d="M84.8 386.78 L86.2 383.68 L89 390.28 L91.8 383.68 L94.6 390.28 L97.4 383.68 L100.2 390.28 L101.5 386.78" stroke="#3a3aff" stroke-width="1.2" fill="none"/>
<path d="M101.5 386.78 L109.7 386.78" stroke="#ff2020" stroke-width="1" fill="none"/>
<path d="M110.7 386.78 L136 386.78" stroke="#8a3262" stroke-width="1.2" fill="none"/>
<text x="111.7" y="384.2" fill="#f02222" stroke="#f02222">SCLK</text>
<text x="78.6" y="380.8" fill="#26368a" stroke="#26368a">R11</text>
<text x="98.9" y="380.8" fill="#26368a" stroke="#26368a">0</text>
<rect x="24.6" y="483.7" width="17.7" height="76.6" stroke="#3a3aff" stroke-width="1.4" fill="none"/>
<path d="M42.3 492.1 L67.6 492.1" stroke="#ff2020" stroke-width="1" fill="none"/>
<text x="47.7" y="488.7" fill="#222" stroke="#222" stroke-width="0.06">1</text>
<path d="M65 489.5 L70.2 494.7" stroke="#7a5a20" stroke-width="0.9" fill="none"/>
<path d="M65 494.7 L70.2 489.5" stroke="#7a5a20" stroke-width="0.9" fill="none"/>
<path d="M42.3 500.67 L67.6 500.67" stroke="#ff2020" stroke-width="1" fill="none"/>
<text x="47.7" y="497.27" fill="#222" stroke="#222" stroke-width="0.06">2</text>
<path d="M65 498.07 L70.2 503.27" stroke="#7a5a20" stroke-width="0.9" fill="none"/>
<path d="M65 503.27 L70.2 498.07" stroke="#7a5a20" stroke-width="0.9" fill="none"/>
<path d="M42.3 509.24 L67.6 509.24" stroke="#ff2020" stroke-width="1" fill="none"/>
<text x="47.7" y="505.84" fill="#222" stroke="#222" stroke-width="0.06">3</text>
<path d="M65 506.64 L70.2 511.84" stroke="#7a5a20" stroke-width="0.9" fill="none"/>
<path d="M65 511.84 L70.2 506.64" stroke="#7a5a20" stroke-width="0.9" fill="none"/>
<path d="M42.3 517.81 L67.6 517.81" stroke="#ff2020" stroke-width="1" fill="none"/>
<text x="47.7" y="514.41" fill="#222" stroke="#222" stroke-width="0.06">4</text>
<path d="M42.3 526.38 L67.6 526.38" stroke="#ff2020" stroke-width="1" fill="none"/>
<text x="47.7" y="522.98" fill="#222" stroke="#222" stroke-width="0.06">5</text>
<path d="M65 523.78 L70.2 528.98" stroke="#7a5a20" stroke-width="0.9" fill="none"/>
<path d="M65 528.98 L70.2 523.78" stroke="#7a5a20" stroke-width="0.9" fill="none"/>
<path d="M42.3 534.95 L67.6 534.95" stroke="#ff2020" stroke-width="1" fill="none"/>
<text x="47.7" y="531.55" fill="#222" stroke="#222" stroke-width="0.06">6</text>
<path d="M42.3 543.52 L67.6 543.52" stroke="#ff2020" stroke-width="1" fill="none"/>
<text x="47.7" y="540.12" fill="#222" stroke="#222" stroke-width="0.06">7</text>
<path d="M42.3 552.09 L67.6 552.09" stroke="#ff2020" stroke-width="1" fill="none"/>
<text x="47.7" y="548.69" fill="#222" stroke="#222" stroke-width="0.06">8</text>
<path d="M65 549.49 L70.2 554.69" stroke="#7a5a20" stroke-width="0.9" fill="none"/>
<path d="M65 554.69 L70.2 549.49" stroke="#7a5a20" stroke-width="0.9" fill="none"/>
<text x="25" y="473.6" fill="#26368a" stroke="#26368a">CN3</text>
<text x="20" y="575.9" fill="#26368a" stroke="#26368a">CON8</text>
<path d="M67.6 517.81 L102.3 517.81" stroke="#8a3262" stroke-width="1.2" fill="none"/>
<path d="M102.3 517.81 L109.9 517.81" stroke="#ff2020" stroke-width="1" fill="none"/>
<path d="M88.7 509.3 L96.9 509.3" stroke="#ff2020" stroke-width="1" fill="none"/>
<path d="M92.8 509.3 L92.8 517.81" stroke="#ff2020" stroke-width="1" fill="none"/>
<text x="91.2" y="508.1" text-anchor="middle" fill="#222" stroke="#222" stroke-width="0.06">3V3</text>
<rect x="109.9" y="509.3" width="34.5" height="17.1" stroke="#3a3aff" stroke-width="1.3" fill="none"/>
<text x="99.9" y="514.6" fill="#222" stroke="#222" stroke-width="0.06">1</text>
<text x="149.8" y="514.6" fill="#222" stroke="#222" stroke-width="0.06">2</text>
<text x="114.3" y="521.2" fill="#2c4a90" stroke="#2c4a90">1</text>
<text x="135.4" y="521.2" fill="#2c4a90" stroke="#2c4a90">2</text>
<path d="M144.4 517.81 L152.8 517.81" stroke="#ff2020" stroke-width="1" fill="none"/>
<path d="M152.8 517.81 L165.9 517.81 L165.9 514" stroke="#8a3262" stroke-width="1.2" fill="none"/>
<path d="M161.8 505.7 L170 505.7" stroke="#ff2020" stroke-width="1" fill="none"/>
<path d="M165.9 505.7 L165.9 514" stroke="#ff2020" stroke-width="1" fill="none"/>
<text x="165.3" y="504.1" text-anchor="middle" fill="#222" stroke="#222" stroke-width="0.06">VDD</text>
<text x="109.9" y="499.1" fill="#26368a" stroke="#26368a">Jumper2</text>
<text x="118.3" y="541.8" fill="#26368a" stroke="#26368a">JP1</text>
<path d="M67.6 534.95 L90.3 534.95 Q92.8 534.95 92.8 537.45 L92.8 548" stroke="#8a3262" stroke-width="1.2" fill="none"/>
<path d="M67.6 543.52 L92.8 543.52" stroke="#8a3262" stroke-width="1.2" fill="none"/>
<path d="M92.8 548 L92.8 552.1" stroke="#ff2020" stroke-width="1" fill="none"/>
<path d="M84.4 552.1 L101.2 552.1" stroke="#ff2020" stroke-width="1" fill="none"/>
<path d="M87 554.8 L98.6 554.8" stroke="#ff2020" stroke-width="1" fill="none"/>
<path d="M89.6 557.4 L96 557.4" stroke="#ff2020" stroke-width="1" fill="none"/>
<path d="M91.9 559.9 L93.7 559.9" stroke="#ff2020" stroke-width="1" fill="none"/>
<rect x="24.6" y="637.2" width="17.7" height="59.5" stroke="#3a3aff" stroke-width="1.4" fill="none"/>
<path d="M42.3 645.6 L67.6 645.6" stroke="#ff2020" stroke-width="1" fill="none"/>
<text x="47.7" y="642.2" fill="#222" stroke="#222" stroke-width="0.06">1</text>
<path d="M42.3 654.15 L67.6 654.15" stroke="#ff2020" stroke-width="1" fill="none"/>
<text x="47.7" y="650.75" fill="#222" stroke="#222" stroke-width="0.06">2</text>
<path d="M42.3 662.7 L67.6 662.7" stroke="#ff2020" stroke-width="1" fill="none"/>
<text x="47.7" y="659.3" fill="#222" stroke="#222" stroke-width="0.06">3</text>
<path d="M42.3 671.25 L67.6 671.25" stroke="#ff2020" stroke-width="1" fill="none"/>
<text x="47.7" y="667.85" fill="#222" stroke="#222" stroke-width="0.06">4</text>
<path d="M42.3 679.8 L67.6 679.8" stroke="#ff2020" stroke-width="1" fill="none"/>
<text x="47.7" y="676.4" fill="#222" stroke="#222" stroke-width="0.06">5</text>
<path d="M65 677.2 L70.2 682.4" stroke="#7a5a20" stroke-width="0.9" fill="none"/>
<path d="M65 682.4 L70.2 677.2" stroke="#7a5a20" stroke-width="0.9" fill="none"/>
<path d="M42.3 688.35 L67.6 688.35" stroke="#ff2020" stroke-width="1" fill="none"/>
<text x="47.7" y="684.95" fill="#222" stroke="#222" stroke-width="0.06">6</text>
<text x="25" y="627.1" fill="#26368a" stroke="#26368a">CN4</text>
<text x="20" y="712.4" fill="#26368a" stroke="#26368a">CON6</text>
<path d="M68.4 645.6 L127.4 645.6" stroke="#8a3262" stroke-width="1.2" fill="none"/>
<path d="M127.4 645.6 L135.4 645.6" stroke="#ff2020" stroke-width="1" fill="none"/>
<path d="M135.4 645.6 L136.8 642.5 L139.6 649.1 L142.4 642.5 L145.2 649.1 L148 642.5 L150.8 649.1 L152.1 645.6" stroke="#3a3aff" stroke-width="1.2" fill="none"/>
<path d="M152.1 645.6 L160.1 645.6" stroke="#ff2020" stroke-width="1" fill="none"/>
<path d="M161 645.6 L186.5 645.6" stroke="#8a3262" stroke-width="1.2" fill="none"/>
<path d="M68.4 654.15 L127.4 654.15" stroke="#8a3262" stroke-width="1.2" fill="none"/>
<path d="M127.4 654.15 L135.4 654.15" stroke="#ff2020" stroke-width="1" fill="none"/>
<path d="M135.4 654.15 L136.8 651.05 L139.6 657.65 L142.4 651.05 L145.2 657.65 L148 651.05 L150.8 657.65 L152.1 654.15" stroke="#3a3aff" stroke-width="1.2" fill="none"/>
<path d="M152.1 654.15 L160.1 654.15" stroke="#ff2020" stroke-width="1" fill="none"/>
<path d="M161 654.15 L186.5 654.15" stroke="#8a3262" stroke-width="1.2" fill="none"/>
<text x="161.9" y="643.2" fill="#f02222" stroke="#f02222">GPIO0</text>
<text x="161.9" y="651.8" fill="#f02222" stroke="#f02222">CSN</text>
<text x="125.7" y="637.2" fill="#26368a" stroke="#26368a">R12</text>
<text x="147.8" y="637.2" fill="#26368a" stroke="#26368a">0</text>
<text x="135" y="666.2" fill="#26368a" stroke="#26368a">R13</text>
<text x="153.8" y="666.2" fill="#26368a" stroke="#26368a">0</text>
<path d="M67.6 662.7 L76.8 662.7" stroke="#ff2020" stroke-width="1" fill="none"/>
<path d="M76.8 662.7 L78.2 659.6 L81 666.2 L83.8 659.6 L86.6 666.2 L89.4 659.6 L92.2 666.2 L93.5 662.7" stroke="#3a3aff" stroke-width="1.2" fill="none"/>
<path d="M93.5 662.7 L101.3 662.7" stroke="#ff2020" stroke-width="1" fill="none"/>
<path d="M102.3 662.7 L127.8 662.7" stroke="#8a3262" stroke-width="1.2" fill="none"/>
<path d="M67.6 671.25 L76.8 671.25" stroke="#ff2020" stroke-width="1" fill="none"/>
<path d="M76.8 671.25 L78.2 668.15 L81 674.75 L83.8 668.15 L86.6 674.75 L89.4 668.15 L92.2 674.75 L93.5 671.25" stroke="#3a3aff" stroke-width="1.2" fill="none"/>
<path d="M93.5 671.25 L101.3 671.25" stroke="#ff2020" stroke-width="1" fill="none"/>
<path d="M102.3 671.25 L127.8 671.25" stroke="#8a3262" stroke-width="1.2" fill="none"/>
<path d="M67.6 688.35 L76.8 688.35" stroke="#ff2020" stroke-width="1" fill="none"/>
<path d="M76.8 688.35 L78.2 685.25 L81 691.85 L83.8 685.25 L86.6 691.85 L89.4 685.25 L92.2 691.85 L93.5 688.35" stroke="#3a3aff" stroke-width="1.2" fill="none"/>
<path d="M93.5 688.35 L101.3 688.35" stroke="#ff2020" stroke-width="1" fill="none"/>
<path d="M102.3 688.35 L127.8 688.35" stroke="#8a3262" stroke-width="1.2" fill="none"/>
<text x="103.3" y="660.2" fill="#f02222" stroke="#f02222">GPIO1</text>
<text x="103.3" y="668.8" fill="#f02222" stroke="#f02222">GPIO2</text>
<text x="103.3" y="685.9" fill="#f02222" stroke="#f02222">GPIO3</text>
<text x="68.6" y="659.2" fill="#26368a" stroke="#26368a">R14</text>
<text x="90.2" y="659.2" fill="#26368a" stroke="#26368a">0</text>
<text x="70.8" y="681.3" fill="#26368a" stroke="#26368a">R15</text>
<text x="92.2" y="680.7" fill="#26368a" stroke="#26368a">0</text>
<text x="70.8" y="698.3" fill="#26368a" stroke="#26368a">R16</text>
<text x="92.2" y="698" fill="#26368a" stroke="#26368a">0</text>
<text x="175" y="318.1" fill="#26368a" stroke="#26368a" style="font-size:8px">Vsmps_ext</text>
<circle cx="204.3" cy="327.1" r="4" fill="#0000ee"/>
<path d="M204.3 330.5 L204.3 339.6 L210 339.6" stroke="#ff2020" stroke-width="1" fill="none"/>
<path d="M210 339.6 L218.2 339.6" stroke="#8a3262" stroke-width="1.2" fill="none"/>
<path d="M218.2 339.6 L226.2 339.6" stroke="#ff2020" stroke-width="1" fill="none"/>
<path d="M226.2 339.6 L227.6 336.5 L230.4 343.1 L233.2 336.5 L236 343.1 L238.8 336.5 L241.6 343.1 L242.9 339.6" stroke="#3a3aff" stroke-width="1.2" fill="none"/>
<path d="M242.9 339.6 L251.3 339.6" stroke="#ff2020" stroke-width="1" fill="none"/>
<path d="M251.3 339.6 L305.8 339.6" stroke="#8a3262" stroke-width="1.2" fill="none"/>
<text x="218.2" y="352.2" fill="#26368a" stroke="#26368a">R20</text>
<text x="240.6" y="355.2" fill="#26368a" stroke="#26368a">NM</text>
<path d="M265.7 339.6 L265.7 345.2" stroke="#8a3262" stroke-width="1.2" fill="none"/>
<path d="M265.7 345.2 L265.7 352.8" stroke="#ff2020" stroke-width="1" fill="none"/>
<path d="M265.7 352.8 L268.86 354.2 L262.13 357 L268.86 359.8 L262.13 362.6 L268.86 365.4 L262.13 368.2 L265.7 369.5" stroke="#3a3aff" stroke-width="1.2" fill="none"/>
<path d="M265.7 369.5 L265.7 377.7" stroke="#ff2020" stroke-width="1" fill="none"/>
<path d="M265.7 377.7 L265.7 395.7 L220.8 395.7" stroke="#8a3262" stroke-width="1.2" fill="none"/>
<text x="224.2" y="393.3" fill="#f02222" stroke="#f02222">VSMPS2</text>
<text x="279.8" y="359.2" fill="#26368a" stroke="#26368a">R21</text>
<text x="279.8" y="369.7" fill="#26368a" stroke="#26368a">0 ohm</text>
<text x="163.5" y="374.2" fill="#222" stroke="#222" style="font-size:7.1px;font-family:'Liberation Mono',monospace;font-weight:bold;stroke-width:0">1.4 V to 1.8 V max</text>
<path d="M282.8 339.6 L282.8 329" stroke="#8a3262" stroke-width="1.2" fill="none"/>
<path d="M282.8 304.5 L282.8 315.6" stroke="#ff2020" stroke-width="1" fill="none"/>
<path d="M275.2 315.6 L290.4 315.6" stroke="#3a3aff" stroke-width="1.3" fill="none"/>
<path d="M275.2 320 L290.4 320" stroke="#3a3aff" stroke-width="1.3" fill="none"/>
<path d="M282.8 320 L282.8 329" stroke="#ff2020" stroke-width="1" fill="none"/>
<path d="M274.4 304.5 L291.2 304.5" stroke="#ff2020" stroke-width="1" fill="none"/>
<path d="M277 301.8 L288.6 301.8" stroke="#ff2020" stroke-width="1" fill="none"/>
<path d="M279.6 299.2 L286 299.2" stroke="#ff2020" stroke-width="1" fill="none"/>
<path d="M281.9 296.7 L283.7 296.7" stroke="#ff2020" stroke-width="1" fill="none"/>
<path d="M305.8 339.6 L305.8 329" stroke="#8a3262" stroke-width="1.2" fill="none"/>
<path d="M305.8 304.5 L305.8 315.6" stroke="#ff2020" stroke-width="1" fill="none"/>
<path d="M298.2 315.6 L313.4 315.6" stroke="#3a3aff" stroke-width="1.3" fill="none"/>
<path d="M298.2 320 L313.4 320" stroke="#3a3aff" stroke-width="1.3" fill="none"/>
<path d="M305.8 320 L305.8 329" stroke="#ff2020" stroke-width="1" fill="none"/>
<path d="M297.4 304.5 L314.2 304.5" stroke="#ff2020" stroke-width="1" fill="none"/>
<path d="M300 301.8 L311.6 301.8" stroke="#ff2020" stroke-width="1" fill="none"/>
<path d="M302.6 299.2 L309 299.2" stroke="#ff2020" stroke-width="1" fill="none"/>
<path d="M304.9 296.7 L306.7 296.7" stroke="#ff2020" stroke-width="1" fill="none"/>
<text x="224.2" y="312.5" fill="#26368a" stroke="#26368a">C_150n_0402</text>
<text x="254.9" y="323.5" fill="#26368a" stroke="#26368a">C32</text>
<text x="318.9" y="302.5" fill="#26368a" stroke="#26368a">C12</text>
<text x="318.9" y="312.5" fill="#26368a" stroke="#26368a">C_1u_0603</text>
<path d="M305.8 339.6 L314.5 339.6" stroke="#ff2020" stroke-width="1" fill="none"/>
<path d="M314.5 339.6 a4.22 4.01 0 0 1 8.45 0 a4.22 4.01 0 0 1 8.45 0" stroke="#3a3aff" stroke-width="1.2" fill="none"/>
<path d="M331.4 339.6 L339.5 339.6" stroke="#ff2020" stroke-width="1" fill="none"/>
<path d="M339.5 339.6 L356.2 339.6" stroke="#8a3262" stroke-width="1.2" fill="none"/>
<path d="M356.2 339.6 L364.6 339.6" stroke="#ff2020" stroke-width="1" fill="none"/>
<path d="M364.6 339.6 a4.22 4.01 0 0 1 8.45 0 a4.22 4.01 0 0 1 8.45 0 a4.22 4.01 0 0 1 8.45 0 a4.22 4.01 0 0 1 8.45 0" stroke="#3a3aff" stroke-width="1.2" fill="none"/>
<path d="M398.4 339.6 L406.3 339.6" stroke="#ff2020" stroke-width="1" fill="none"/>
<path d="M406.3 339.6 L438.4 339.6" stroke="#8a3262" stroke-width="1.2" fill="none"/>
<text x="322.1" y="331.1" fill="#26368a" stroke="#26368a">L1</text>
<text x="307.8" y="347.2" fill="#26368a" stroke="#26368a">L_TBD_0402</text>
<text x="362.3" y="331.1" fill="#26368a" stroke="#26368a">L2</text>
<text x="363.3" y="347.2" fill="#26368a" stroke="#26368a">L_10U_0805</text>
<rect x="446.9" y="305.8" width="144.7" height="102.4" stroke="#3a3aff" stroke-width="1.4" fill="none"/>
<path d="M438.4 331.1 L446.9 331.1" stroke="#ff2020" stroke-width="1" fill="none"/>
<path d="M591.6 331.1 L600 331.1" stroke="#ff2020" stroke-width="1" fill="none"/>
<text x="436" y="328" fill="#222" stroke="#222" stroke-width="0.06">1</text>
<text x="598.5" y="328" fill="#222" stroke="#222" stroke-width="0.06">18</text>
<text x="451" y="334.7" fill="#2a5596" stroke="#2a5596">VDDSMPS</text>
<text x="587" y="334.7" text-anchor="end" fill="#2a5596" stroke="#2a5596">SCLK</text>
<path d="M438.4 339.6 L446.9 339.6" stroke="#ff2020" stroke-width="1" fill="none"/>
<path d="M591.6 339.6 L600 339.6" stroke="#ff2020" stroke-width="1" fill="none"/>
<text x="436" y="336.5" fill="#222" stroke="#222" stroke-width="0.06">2</text>
<text x="598.5" y="336.5" fill="#222" stroke="#222" stroke-width="0.06">17</text>
<text x="451" y="343.2" fill="#2a5596" stroke="#2a5596">SMPS1</text>
<text x="587" y="343.2" text-anchor="end" fill="#2a5596" stroke="#2a5596">SDI</text>
<path d="M438.4 348.3 L446.9 348.3" stroke="#ff2020" stroke-width="1" fill="none"/>
<path d="M591.6 348.3 L600 348.3" stroke="#ff2020" stroke-width="1" fill="none"/>
<text x="436" y="345.2" fill="#222" stroke="#222" stroke-width="0.06">3</text>
<text x="598.5" y="345.2" fill="#222" stroke="#222" stroke-width="0.06">16</text>
<text x="451" y="351.9" fill="#2a5596" stroke="#2a5596">SMPS2</text>
<text x="587" y="351.9" text-anchor="end" fill="#2a5596" stroke="#2a5596">SDO</text>
<path d="M438.4 356.8 L446.9 356.8" stroke="#ff2020" stroke-width="1" fill="none"/>
<path d="M591.6 356.8 L600 356.8" stroke="#ff2020" stroke-width="1" fill="none"/>
<text x="436" y="353.7" fill="#222" stroke="#222" stroke-width="0.06">4</text>
<text x="598.5" y="353.7" fill="#222" stroke="#222" stroke-width="0.06">15</text>
<text x="451" y="360.4" fill="#2a5596" stroke="#2a5596">XOUT</text>
<text x="587" y="360.4" text-anchor="end" fill="#2a5596" stroke="#2a5596">VDDRXDIG</text>
<path d="M438.4 365.4 L446.9 365.4" stroke="#ff2020" stroke-width="1" fill="none"/>
<path d="M591.6 365.4 L600 365.4" stroke="#ff2020" stroke-width="1" fill="none"/>
<text x="436" y="362.3" fill="#222" stroke="#222" stroke-width="0.06">5</text>
<text x="598.5" y="362.3" fill="#222" stroke="#222" stroke-width="0.06">14</text>
<text x="451" y="369" fill="#2a5596" stroke="#2a5596">XIN</text>
<text x="587" y="369" text-anchor="end" fill="#2a5596" stroke="#2a5596">RXP</text>
<path d="M438.4 373.9 L446.9 373.9" stroke="#ff2020" stroke-width="1" fill="none"/>
<path d="M591.6 373.9 L600 373.9" stroke="#ff2020" stroke-width="1" fill="none"/>
<text x="436" y="370.8" fill="#222" stroke="#222" stroke-width="0.06">6</text>
<text x="598.5" y="370.8" fill="#222" stroke="#222" stroke-width="0.06">13</text>
<text x="451" y="377.5" fill="#2a5596" stroke="#2a5596">SDN</text>
<text x="587" y="377.5" text-anchor="end" fill="#2a5596" stroke="#2a5596">RXN</text>
<text x="429.8" y="304.2" fill="#26368a" stroke="#26368a">U2</text>
<text x="420.4" y="399.3" fill="#26368a" stroke="#26368a">S2-LP</text>
<path d="M385.9 331.1 L438.4 331.1" stroke="#8a3262" stroke-width="1.2" fill="none"/>
<text x="389.3" y="329.1" fill="#f02222" stroke="#f02222">VDDSMPS</text>
<path d="M305.8 339.6 L306.6 348.3 L438.4 348.3" stroke="#8a3262" stroke-width="1.2" fill="none"/>
<path d="M438.4 356.8 L323.3 356.8 L323.3 412" stroke="#8a3262" stroke-width="1.2" fill="none"/>
<path d="M438.4 365.4 L363.3 365.4 L363.3 412" stroke="#8a3262" stroke-width="1.2" fill="none"/>
<path d="M389.7 373.9 L438.4 373.9" stroke="#8a3262" stroke-width="1.2" fill="none"/>
<text x="392.7" y="371.3" fill="#f02222" stroke="#f02222">SDN</text>
<path d="M497.8 305.8 L497.8 297.3" stroke="#ff2020" stroke-width="1" fill="none"/>
<text transform="translate(495.9 299.7) rotate(-90)" fill="#222" stroke="#222" stroke-width="0.06">24</text>
<text transform="translate(501.8 310.4) rotate(-90)" text-anchor="end" fill="#2a5596" stroke="#2a5596" style="font-size:7.9px">VRDIG</text>
<path d="M506.4 305.8 L506.4 297.3" stroke="#ff2020" stroke-width="1" fill="none"/>
<text transform="translate(504.5 299.7) rotate(-90)" fill="#222" stroke="#222" stroke-width="0.06">23</text>
<text transform="translate(510.4 310.4) rotate(-90)" text-anchor="end" fill="#2a5596" stroke="#2a5596" style="font-size:7.9px">GPIO3</text>
<path d="M506.4 297.3 L506.4 265.2" stroke="#8a3262" stroke-width="1.2" fill="none"/>
<text transform="translate(504.3 283.3) rotate(-90)" fill="#f02222" stroke="#f02222">GPIO3</text>
<path d="M514.9 305.8 L514.9 297.3" stroke="#ff2020" stroke-width="1" fill="none"/>
<text transform="translate(513 299.7) rotate(-90)" fill="#222" stroke="#222" stroke-width="0.06">22</text>
<text transform="translate(518.9 310.4) rotate(-90)" text-anchor="end" fill="#2a5596" stroke="#2a5596" style="font-size:7.9px">GPIO2</text>
<path d="M514.9 297.3 L514.9 265.2" stroke="#8a3262" stroke-width="1.2" fill="none"/>
<text transform="translate(512.8 283.3) rotate(-90)" fill="#f02222" stroke="#f02222">GPIO2</text>
<path d="M523.5 305.8 L523.5 297.3" stroke="#ff2020" stroke-width="1" fill="none"/>
<text transform="translate(521.6 299.7) rotate(-90)" fill="#222" stroke="#222" stroke-width="0.06">21</text>
<text transform="translate(527.5 310.4) rotate(-90)" text-anchor="end" fill="#2a5596" stroke="#2a5596" style="font-size:7.9px">GPIO1</text>
<path d="M523.5 297.3 L523.5 265.2" stroke="#8a3262" stroke-width="1.2" fill="none"/>
<text transform="translate(521.4 283.3) rotate(-90)" fill="#f02222" stroke="#f02222">GPIO1</text>
<path d="M532 305.8 L532 297.3" stroke="#ff2020" stroke-width="1" fill="none"/>
<text transform="translate(530.1 299.7) rotate(-90)" fill="#222" stroke="#222" stroke-width="0.06">20</text>
<text transform="translate(536 310.4) rotate(-90)" text-anchor="end" fill="#2a5596" stroke="#2a5596" style="font-size:7.9px">GPIO0</text>
<path d="M532 297.3 L532 265.2" stroke="#8a3262" stroke-width="1.2" fill="none"/>
<text transform="translate(529.9 283.3) rotate(-90)" fill="#f02222" stroke="#f02222">GPIO0</text>
<path d="M540.6 305.8 L540.6 297.3" stroke="#ff2020" stroke-width="1" fill="none"/>
<text transform="translate(538.7 299.7) rotate(-90)" fill="#222" stroke="#222" stroke-width="0.06">19</text>
<text transform="translate(544.6 310.4) rotate(-90)" text-anchor="end" fill="#2a5596" stroke="#2a5596" style="font-size:7.9px">CSN</text>
<path d="M540.6 297.3 L540.6 265.2" stroke="#8a3262" stroke-width="1.2" fill="none"/>
<text transform="translate(538.5 283.3) rotate(-90)" fill="#f02222" stroke="#f02222">CSN</text>
<path d="M498.2 408.2 L498.2 417" stroke="#ff2020" stroke-width="1" fill="none"/>
<text transform="translate(494.1 414.2) rotate(-90)" text-anchor="end" fill="#222" stroke="#222" stroke-width="0.06">7</text>
<text transform="translate(501.8 403.3) rotate(-90)" fill="#2a5596" stroke="#2a5596" style="font-size:7.9px">VDDANASYNTH</text>
<path d="M506.8 408.2 L506.8 417" stroke="#ff2020" stroke-width="1" fill="none"/>
<text transform="translate(502.7 414.2) rotate(-90)" text-anchor="end" fill="#222" stroke="#222" stroke-width="0.06">8</text>
<text transform="translate(510.4 403.3) rotate(-90)" fill="#2a5596" stroke="#2a5596" style="font-size:7.9px">VRSYNTH</text>
<path d="M515.2 408.2 L515.2 417" stroke="#ff2020" stroke-width="1" fill="none"/>
<text transform="translate(511.1 414.2) rotate(-90)" text-anchor="end" fill="#222" stroke="#222" stroke-width="0.06">9</text>
<text transform="translate(518.8 403.3) rotate(-90)" fill="#2a5596" stroke="#2a5596" style="font-size:7.9px">VREFVCO</text>
<path d="M523.8 408.2 L523.8 417" stroke="#ff2020" stroke-width="1" fill="none"/>
<text transform="translate(519.7 414.2) rotate(-90)" text-anchor="end" fill="#222" stroke="#222" stroke-width="0.06">10</text>
<text transform="translate(527.4 403.3) rotate(-90)" fill="#2a5596" stroke="#2a5596" style="font-size:7.9px">VDDVCOTX</text>
<path d="M532.1 408.2 L532.1 417" stroke="#ff2020" stroke-width="1" fill="none"/>
<text transform="translate(528 414.2) rotate(-90)" text-anchor="end" fill="#222" stroke="#222" stroke-width="0.06">11</text>
<text transform="translate(535.7 403.3) rotate(-90)" fill="#2a5596" stroke="#2a5596" style="font-size:7.9px">TX</text>
<path d="M540.5 408.2 L540.5 417" stroke="#ff2020" stroke-width="1" fill="none"/>
<text transform="translate(536.4 414.2) rotate(-90)" text-anchor="end" fill="#222" stroke="#222" stroke-width="0.06">12</text>
<text transform="translate(544.1 403.3) rotate(-90)" fill="#2a5596" stroke="#2a5596" style="font-size:7.9px">VRRF</text>
<text transform="translate(587 403.3) rotate(-90)" fill="#2a5596" stroke="#2a5596">GND</text>
<path d="M582.8 408.2 L582.8 417" stroke="#ff2020" stroke-width="1" fill="none"/>
<path d="M574.4 417 L591.2 417" stroke="#ff2020" stroke-width="1" fill="none"/>
<path d="M577 419.7 L588.6 419.7" stroke="#ff2020" stroke-width="1" fill="none"/>
<path d="M579.6 422.3 L586 422.3" stroke="#ff2020" stroke-width="1" fill="none"/>
<path d="M581.9 424.8 L583.7 424.8" stroke="#ff2020" stroke-width="1" fill="none"/>
<text transform="translate(580 414.2) rotate(-90)" text-anchor="end" fill="#222" stroke="#222" stroke-width="0.06">25</text>
<path d="M497.8 297.3 L497.8 216.1" stroke="#8a3262" stroke-width="1.2" fill="none"/>
<path d="M497.8 216.1 L506.7 216.1" stroke="#ff2020" stroke-width="1" fill="none"/>
<path d="M506.7 216.1 L508.1 213 L510.9 219.6 L513.7 213 L516.5 219.6 L519.3 213 L522.1 219.6 L523.4 216.1" stroke="#3a3aff" stroke-width="1.2" fill="none"/>
<path d="M523.4 216.1 L531.4 216.1" stroke="#ff2020" stroke-width="1" fill="none"/>
<path d="M532.8 216.1 L572.9 216.1" stroke="#8a3262" stroke-width="1.2" fill="none"/>
<text x="540.4" y="213.7" fill="#f02222" stroke="#f02222">VSMPS2</text>
<text x="503.3" y="207.1" fill="#26368a" stroke="#26368a">R19</text>
<text x="522.9" y="207.1" fill="#26368a" stroke="#26368a">NM</text>
<path d="M497.8 244.8 L481.6 244.8" stroke="#8a3262" stroke-width="1.2" fill="none"/>
<path d="M474 236.2 L481.6 236.2 L481.6 254.2 L474 254.2" stroke="#8a3262" stroke-width="1.2" fill="none"/>
<path d="M458 236.2 L451.1 236.2 L451.1 254.2 L458 254.2" stroke="#8a3262" stroke-width="1.2" fill="none"/>
<path d="M458 236.2 L466.8 236.2" stroke="#ff2020" stroke-width="1" fill="none"/>
<path d="M466.8 228.6 L466.8 243.8" stroke="#3a3aff" stroke-width="1.3" fill="none"/>
<path d="M471.2 228.6 L471.2 243.8" stroke="#3a3aff" stroke-width="1.3" fill="none"/>
<path d="M471.2 236.2 L474 236.2" stroke="#ff2020" stroke-width="1" fill="none"/>
<path d="M458 254.2 L466.8 254.2" stroke="#ff2020" stroke-width="1" fill="none"/>
<path d="M466.8 246.6 L466.8 261.8" stroke="#3a3aff" stroke-width="1.3" fill="none"/>
<path d="M471.2 246.6 L471.2 261.8" stroke="#3a3aff" stroke-width="1.3" fill="none"/>
<path d="M471.2 254.2 L474 254.2" stroke="#ff2020" stroke-width="1" fill="none"/>
<path d="M451.1 244.8 L444.1 244.8" stroke="#ff2020" stroke-width="1" fill="none"/>
<path d="M444.1 236.4 L444.1 253.2" stroke="#ff2020" stroke-width="1" fill="none"/>
<path d="M441.4 239 L441.4 250.6" stroke="#ff2020" stroke-width="1" fill="none"/>
<path d="M438.8 241.6 L438.8 248" stroke="#ff2020" stroke-width="1" fill="none"/>
<path d="M436.3 243.9 L436.3 245.7" stroke="#ff2020" stroke-width="1" fill="none"/>
<text x="418" y="222.5" fill="#26368a" stroke="#26368a">C_470n_0402</text>
<text x="470.6" y="223.1" fill="#26368a" stroke="#26368a">C10</text>
<text x="418" y="270.3" fill="#26368a" stroke="#26368a">C_100p_0402</text>
<text x="472.6" y="269.7" fill="#26368a" stroke="#26368a">C11</text>
<path d="M326.5 390.5 L335.1 390.5" stroke="#ff2020" stroke-width="1" fill="none"/>
<path d="M352.2 390.5 L360.5 390.5" stroke="#ff2020" stroke-width="1" fill="none"/>
<path d="M335.1 383.2 L335.1 399.5" stroke="#3a3aff" stroke-width="1.3" fill="none"/>
<path d="M352.2 383.2 L352.2 399.5" stroke="#3a3aff" stroke-width="1.3" fill="none"/>
<rect x="337.4" y="382.8" width="12.3" height="16.9" stroke="#3a3aff" stroke-width="1" fill="#1212f4"/>
<path d="M343.5 382.8 L343.5 377.3" stroke="#6a2850" stroke-width="1.2" fill="none"/>
<path d="M335.1 377.3 L351.9 377.3" stroke="#ff2020" stroke-width="1" fill="none"/>
<path d="M337.7 374.6 L349.3 374.6" stroke="#ff2020" stroke-width="1" fill="none"/>
<path d="M340.3 372 L346.7 372" stroke="#ff2020" stroke-width="1" fill="none"/>
<path d="M342.6 369.5 L344.4 369.5" stroke="#ff2020" stroke-width="1" fill="none"/>
<path d="M343.5 399.7 L343.5 404.8" stroke="#6a2850" stroke-width="1.2" fill="none"/>
<path d="M335.1 404.8 L351.9 404.8" stroke="#ff2020" stroke-width="1" fill="none"/>
<path d="M337.7 407.5 L349.3 407.5" stroke="#ff2020" stroke-width="1" fill="none"/>
<path d="M340.3 410.1 L346.7 410.1" stroke="#ff2020" stroke-width="1" fill="none"/>
<path d="M342.6 412.6 L344.4 412.6" stroke="#ff2020" stroke-width="1" fill="none"/>
<text x="337.7" y="366.2" fill="#26368a" stroke="#26368a">Y1</text>
<text x="334.5" y="421.5" fill="#26368a" stroke="#26368a">XTAL</text>
<path d="M323.3 412 L323.3 420.7" stroke="#ff2020" stroke-width="1" fill="none"/>
<path d="M315.7 420.7 L330.9 420.7" stroke="#3a3aff" stroke-width="1.3" fill="none"/>
<path d="M315.7 425.1 L330.9 425.1" stroke="#3a3aff" stroke-width="1.3" fill="none"/>
<path d="M323.3 425.1 L323.3 442.1" stroke="#ff2020" stroke-width="1" fill="none"/>
<path d="M314.9 442.1 L331.7 442.1" stroke="#ff2020" stroke-width="1" fill="none"/>
<path d="M317.5 444.8 L329.1 444.8" stroke="#ff2020" stroke-width="1" fill="none"/>
<path d="M320.1 447.4 L326.5 447.4" stroke="#ff2020" stroke-width="1" fill="none"/>
<path d="M322.4 449.9 L324.2 449.9" stroke="#ff2020" stroke-width="1" fill="none"/>
<path d="M363.3 412 L363.3 422.1" stroke="#ff2020" stroke-width="1" fill="none"/>
<path d="M355.7 422.1 L370.9 422.1" stroke="#3a3aff" stroke-width="1.3" fill="none"/>
<path d="M355.7 426.5 L370.9 426.5" stroke="#3a3aff" stroke-width="1.3" fill="none"/>
<path d="M363.3 426.5 L363.3 446.1" stroke="#ff2020" stroke-width="1" fill="none"/>
<path d="M363.3 446.1 L363.3 446.1" stroke="#ff2020" stroke-width="1" fill="none"/>
<path d="M363.3 446.1 a3.97 4.17 0 0 0 0 8.35 a3.97 4.17 0 0 0 0 8.35" stroke="#3a3aff" stroke-width="1.2" fill="none"/>
<path d="M363.3 462.8 L363.3 471.6" stroke="#ff2020" stroke-width="1" fill="none"/>
<path d="M354.9 471.6 L371.7 471.6" stroke="#ff2020" stroke-width="1" fill="none"/>
<path d="M357.5 474.3 L369.1 474.3" stroke="#ff2020" stroke-width="1" fill="none"/>
<path d="M360.1 476.9 L366.5 476.9" stroke="#ff2020" stroke-width="1" fill="none"/>
<path d="M362.4 479.4 L364.2 479.4" stroke="#ff2020" stroke-width="1" fill="none"/>
<text x="300" y="415.8" fill="#26368a" stroke="#26368a">C19</text>
<text x="267.3" y="430.8" fill="#26368a" stroke="#26368a">C_12p_0402</text>
<text x="370.6" y="419.3" fill="#26368a" stroke="#26368a">C20</text>
<text x="371.2" y="431.8" fill="#26368a" stroke="#26368a">C_12p_0402</text>
<text x="376.9" y="453.6" fill="#26368a" stroke="#26368a">L6</text>
<text x="376.9" y="463.2" fill="#26368a" stroke="#26368a">L_TBD_0402</text>
<path d="M428.4 427.5 L498.2 427.5 L498.2 417" stroke="#8a3262" stroke-width="1.2" fill="none"/>
<text x="431.8" y="425" fill="#f02222" stroke="#f02222" style="font-size:7.95px">VDDANASYNTH</text>
<path d="M506.8 417 L506.8 473.6" stroke="#8a3262" stroke-width="1.2" fill="none"/>
<text transform="translate(504.6 470.2) rotate(-90)" fill="#f02222" stroke="#f02222" style="font-size:7.9px">VRSYNTH</text>
<path d="M515.2 417 L515.2 488.7 L502.5 488.7 L502.5 491" stroke="#8a3262" stroke-width="1.2" fill="none"/>
<path d="M502.5 491 L502.5 498.3" stroke="#ff2020" stroke-width="1" fill="none"/>
<path d="M494.9 498.3 L510.1 498.3" stroke="#3a3aff" stroke-width="1.3" fill="none"/>
<path d="M494.9 502.7 L510.1 502.7" stroke="#3a3aff" stroke-width="1.3" fill="none"/>
<path d="M502.5 502.7 L502.5 513.7" stroke="#ff2020" stroke-width="1" fill="none"/>
<path d="M494.1 513.7 L510.9 513.7" stroke="#ff2020" stroke-width="1" fill="none"/>
<path d="M496.7 516.4 L508.3 516.4" stroke="#ff2020" stroke-width="1" fill="none"/>
<path d="M499.3 519 L505.7 519" stroke="#ff2020" stroke-width="1" fill="none"/>
<path d="M501.6 521.5 L503.4 521.5" stroke="#ff2020" stroke-width="1" fill="none"/>
<text x="482.7" y="495.7" fill="#26368a" stroke="#26368a">C25</text>
<text x="446.4" y="507.3" fill="#26368a" stroke="#26368a">C_470p_0402</text>
<path d="M523.8 417 L523.8 472.6" stroke="#8a3262" stroke-width="1.2" fill="none"/>
<text transform="translate(521.2 470.2) rotate(-90)" fill="#f02222" stroke="#f02222" style="font-size:7.9px">VDDVCOTX</text>
<path d="M532.1 417 L532.1 568.2 L654.2 568.2" stroke="#8a3262" stroke-width="1.2" fill="none"/>
<path d="M687.7 568.2 L718.4 568.2" stroke="#8a3262" stroke-width="1.2" fill="none"/>
<path d="M751.5 568.2 L785.6 568.2" stroke="#8a3262" stroke-width="1.2" fill="none"/>
<path d="M540.5 417 L540.5 435.9" stroke="#8a3262" stroke-width="1.2" fill="none"/>
<path d="M540.5 435.9 L629.1 435.9" stroke="#8a3262" stroke-width="1.2" fill="none"/>
<path d="M540.5 435.9 L540.5 448.7" stroke="#ff2020" stroke-width="1" fill="none"/>
<path d="M532.9 448.7 L548.1 448.7" stroke="#3a3aff" stroke-width="1.3" fill="none"/>
<path d="M532.9 453.1 L548.1 453.1" stroke="#3a3aff" stroke-width="1.3" fill="none"/>
<path d="M540.5 453.1 L540.5 463.8" stroke="#ff2020" stroke-width="1" fill="none"/>
<path d="M600.8 435.9 L600.8 448.7" stroke="#ff2020" stroke-width="1" fill="none"/>
<path d="M593.2 448.7 L608.4 448.7" stroke="#3a3aff" stroke-width="1.3" fill="none"/>
<path d="M593.2 453.1 L608.4 453.1" stroke="#3a3aff" stroke-width="1.3" fill="none"/>
<path d="M600.8 453.1 L600.8 463.8" stroke="#ff2020" stroke-width="1" fill="none"/>
<path d="M540.5 463.8 L600.8 463.8" stroke="#8a3262" stroke-width="1.2" fill="none"/>
<path d="M540.5 463.8 L540.5 468.2" stroke="#ff2020" stroke-width="1" fill="none"/>
<path d="M532.1 468.2 L548.9 468.2" stroke="#ff2020" stroke-width="1" fill="none"/>
<path d="M534.7 470.9 L546.3 470.9" stroke="#ff2020" stroke-width="1" fill="none"/>
<path d="M537.3 473.5 L543.7 473.5" stroke="#ff2020" stroke-width="1" fill="none"/>
<path d="M539.6 476 L541.4 476" stroke="#ff2020" stroke-width="1" fill="none"/>
<text x="548.9" y="450.8" fill="#26368a" stroke="#26368a">C22</text>
<text x="548.3" y="461.2" fill="#26368a" stroke="#26368a">C_150n_0402</text>
<text x="609.5" y="450.8" fill="#26368a" stroke="#26368a">C23</text>
<text x="608.6" y="461" fill="#26368a" stroke="#26368a">C_100p_0402</text>
<path d="M629.1 435.9 L637.7 435.9" stroke="#ff2020" stroke-width="1" fill="none"/>
<path d="M637.7 435.9 L639.1 432.8 L641.9 439.4 L644.7 432.8 L647.5 439.4 L650.3 432.8 L653.1 439.4 L654.4 435.9" stroke="#3a3aff" stroke-width="1.2" fill="none"/>
<path d="M654.4 435.9 L662.8 435.9" stroke="#ff2020" stroke-width="1" fill="none"/>
<path d="M663.8 435.9 L679.6 435.9 L679.6 489.7" stroke="#8a3262" stroke-width="1.2" fill="none"/>
<text x="632.5" y="445.7" fill="#26368a" stroke="#26368a">R17</text>
<text x="651.6" y="446.7" fill="#26368a" stroke="#26368a">NM</text>
<path d="M679.6 469.2 L688.3 469.2" stroke="#ff2020" stroke-width="1" fill="none"/>
<path d="M688.3 469.2 L689.7 466.1 L692.5 472.7 L695.3 466.1 L698.1 472.7 L700.9 466.1 L703.7 472.7 L705 469.2" stroke="#3a3aff" stroke-width="1.2" fill="none"/>
<path d="M705 469.2 L712.9 469.2" stroke="#ff2020" stroke-width="1" fill="none"/>
<path d="M712.9 469.2 L726.6 469.2 L726.6 466" stroke="#8a3262" stroke-width="1.2" fill="none"/>
<path d="M722.5 461.2 L730.7 461.2" stroke="#ff2020" stroke-width="1" fill="none"/>
<path d="M726.6 461.2 L726.6 466" stroke="#ff2020" stroke-width="1" fill="none"/>
<text x="726.6" y="459.6" text-anchor="middle" fill="#222" stroke="#222" stroke-width="0.06">VDD</text>
<text x="688.3" y="454.6" fill="#26368a" stroke="#26368a">R22</text>
<text x="688.3" y="489.7" fill="#26368a" stroke="#26368a">NM</text>
<path d="M532.1 489.7 L554.7 489.7" stroke="#8a3262" stroke-width="1.2" fill="none"/>
<path d="M554.7 489.7 L562.8 489.7" stroke="#ff2020" stroke-width="1" fill="none"/>
<path d="M562.8 489.7 a4.22 4.01 0 0 0 8.45 0 a4.22 4.01 0 0 0 8.45 0" stroke="#3a3aff" stroke-width="1.2" fill="none"/>
<path d="M579.7 489.7 L587.8 489.7" stroke="#ff2020" stroke-width="1" fill="none"/>
<path d="M587.8 489.7 L679.6 489.7" stroke="#8a3262" stroke-width="1.2" fill="none"/>
<text x="563.4" y="483.9" fill="#26368a" stroke="#26368a">L7</text>
<text x="558" y="502.3" fill="#26368a" stroke="#26368a">L_TBD_0603</text>
<text x="621.1" y="487.3" fill="#f02222" stroke="#f02222">VSMPS2</text>
<path d="M647.5 489.7 L647.5 504.9" stroke="#ff2020" stroke-width="1" fill="none"/>
<path d="M639.9 504.9 L655.1 504.9" stroke="#3a3aff" stroke-width="1.3" fill="none"/>
<path d="M639.9 509.3 L655.1 509.3" stroke="#3a3aff" stroke-width="1.3" fill="none"/>
<path d="M647.5 509.3 L647.5 518" stroke="#ff2020" stroke-width="1" fill="none"/>
<path d="M647.5 518 L647.5 520.4" stroke="#8a3262" stroke-width="1.2" fill="none"/>
<path d="M667 489.7 L667 504.9" stroke="#ff2020" stroke-width="1" fill="none"/>
<path d="M659.4 504.9 L674.6 504.9" stroke="#3a3aff" stroke-width="1.3" fill="none"/>
<path d="M659.4 509.3 L674.6 509.3" stroke="#3a3aff" stroke-width="1.3" fill="none"/>
<path d="M667 509.3 L667 518" stroke="#ff2020" stroke-width="1" fill="none"/>
<path d="M667 518 L667 520.4" stroke="#8a3262" stroke-width="1.2" fill="none"/>
<path d="M647.5 520.4 L667 520.4" stroke="#8a3262" stroke-width="1.2" fill="none"/>
<path d="M657.8 520.4 L657.8 523" stroke="#8a3262" stroke-width="1.2" fill="none"/>
<path d="M657.8 523 L657.8 527.4" stroke="#ff2020" stroke-width="1" fill="none"/>
<path d="M649.4 527.4 L666.2 527.4" stroke="#ff2020" stroke-width="1" fill="none"/>
<path d="M652 530.1 L663.6 530.1" stroke="#ff2020" stroke-width="1" fill="none"/>
<path d="M654.6 532.7 L661 532.7" stroke="#ff2020" stroke-width="1" fill="none"/>
<path d="M656.9 535.2 L658.7 535.2" stroke="#ff2020" stroke-width="1" fill="none"/>
<text x="623.7" y="502.3" fill="#26368a" stroke="#26368a">C34</text>
<text x="590.9" y="517" fill="#26368a" stroke="#26368a">C_150n_0402</text>
<text x="675.8" y="506.3" fill="#26368a" stroke="#26368a">C35</text>
<text x="675.2" y="517" fill="#26368a" stroke="#26368a">C_100p_0402</text>
<path d="M600 331.1 L633 331.1" stroke="#8a3262" stroke-width="1.2" fill="none"/>
<text x="612.4" y="328.7" fill="#f02222" stroke="#f02222">SCLK</text>
<path d="M600 339.6 L633 339.6" stroke="#8a3262" stroke-width="1.2" fill="none"/>
<text x="617.1" y="337.3" fill="#f02222" stroke="#f02222">SDI</text>
<path d="M600 348.3 L633 348.3" stroke="#8a3262" stroke-width="1.2" fill="none"/>
<text x="617.1" y="345.8" fill="#f02222" stroke="#f02222">SDO</text>
<path d="M600 356.8 L644.1 356.8" stroke="#8a3262" stroke-width="1.2" fill="none"/>
<text x="606" y="354.4" fill="#f02222" stroke="#f02222">VDDRXDIG</text>
<path d="M600 365.4 L653.8 365.4 L653.8 351.6 L658.2 351.6" stroke="#8a3262" stroke-width="1.2" fill="none"/>
<path d="M600 373.9 L654.8 373.9 L654.8 386.7 L657.5 386.7" stroke="#8a3262" stroke-width="1.2" fill="none"/>
<path d="M658.2 351.6 L666.6 351.6" stroke="#ff2020" stroke-width="1" fill="none"/>
<path d="M666.6 344 L666.6 359.2" stroke="#3a3aff" stroke-width="1.3" fill="none"/>
<path d="M671 344 L671 359.2" stroke="#3a3aff" stroke-width="1.3" fill="none"/>
<path d="M671 351.6 L680.2 351.6" stroke="#ff2020" stroke-width="1" fill="none"/>
<path d="M680.2 351.6 L749.5 351.6" stroke="#8a3262" stroke-width="1.2" fill="none"/>
<path d="M657.5 386.7 L665.8 386.7" stroke="#ff2020" stroke-width="1" fill="none"/>
<path d="M665.8 379.1 L665.8 394.3" stroke="#3a3aff" stroke-width="1.3" fill="none"/>
<path d="M670.2 379.1 L670.2 394.3" stroke="#3a3aff" stroke-width="1.3" fill="none"/>
<path d="M670.2 386.7 L680.2 386.7" stroke="#ff2020" stroke-width="1" fill="none"/>
<path d="M680.2 386.7 L756.5 386.7" stroke="#8a3262" stroke-width="1.2" fill="none"/>
<path d="M709.9 351.6 L709.9 366.8" stroke="#ff2020" stroke-width="1" fill="none"/>
<path d="M709.9 371.2 L709.9 386.7" stroke="#ff2020" stroke-width="1" fill="none"/>
<path d="M703.2 366.8 L718.6 366.8" stroke="#3a3aff" stroke-width="1.3" fill="none"/>
<path d="M703.2 371.2 L718.6 371.2" stroke="#3a3aff" stroke-width="1.3" fill="none"/>
<path d="M749.5 351.6 L758.1 351.6" stroke="#ff2020" stroke-width="1" fill="none"/>
<path d="M758.1 351.6 a4.22 4.01 0 0 1 8.45 0 a4.22 4.01 0 0 1 8.45 0" stroke="#3a3aff" stroke-width="1.2" fill="none"/>
<path d="M775 351.6 L782.5 351.6" stroke="#ff2020" stroke-width="1" fill="none"/>
<path d="M782.5 351.6 L797.2 351.6 L797.2 386.7 L780.5 386.7" stroke="#8a3262" stroke-width="1.2" fill="none"/>
<path d="M756.5 386.7 L766.1 386.7" stroke="#ff2020" stroke-width="1" fill="none"/>
<path d="M766.1 379.1 L766.1 394.3" stroke="#3a3aff" stroke-width="1.3" fill="none"/>
<path d="M770.5 379.1 L770.5 394.3" stroke="#3a3aff" stroke-width="1.3" fill="none"/>
<path d="M770.5 386.7 L780.5 386.7" stroke="#ff2020" stroke-width="1" fill="none"/>
<path d="M739.8 320.1 L739.8 331.2" stroke="#ff2020" stroke-width="1" fill="none"/>
<path d="M732.2 331.2 L747.4 331.2" stroke="#3a3aff" stroke-width="1.3" fill="none"/>
<path d="M732.2 335.6 L747.4 335.6" stroke="#3a3aff" stroke-width="1.3" fill="none"/>
<path d="M739.8 335.6 L739.8 351.6" stroke="#ff2020" stroke-width="1" fill="none"/>
<path d="M731.4 320.1 L748.2 320.1" stroke="#ff2020" stroke-width="1" fill="none"/>
<path d="M734 317.4 L745.6 317.4" stroke="#ff2020" stroke-width="1" fill="none"/>
<path d="M736.6 314.8 L743 314.8" stroke="#ff2020" stroke-width="1" fill="none"/>
<path d="M738.9 312.3 L740.7 312.3" stroke="#ff2020" stroke-width="1" fill="none"/>
<path d="M739.8 351.6 L739.8 360.6" stroke="#ff2020" stroke-width="1" fill="none"/>
<path d="M739.8 360.6 a3.97 4.17 0 0 0 0 8.35 a3.97 4.17 0 0 0 0 8.35" stroke="#3a3aff" stroke-width="1.2" fill="none"/>
<path d="M739.8 377.3 L739.8 386.7" stroke="#ff2020" stroke-width="1" fill="none"/>
<path d="M739.8 386.7 L739.8 401.3" stroke="#ff2020" stroke-width="1" fill="none"/>
<path d="M739.8 401.3 a3.97 4.17 0 0 0 0 8.35 a3.97 4.17 0 0 0 0 8.35" stroke="#3a3aff" stroke-width="1.2" fill="none"/>
<path d="M739.8 418 L739.8 426.4" stroke="#ff2020" stroke-width="1" fill="none"/>
<path d="M731.4 426.4 L748.2 426.4" stroke="#ff2020" stroke-width="1" fill="none"/>
<path d="M734 429.1 L745.6 429.1" stroke="#ff2020" stroke-width="1" fill="none"/>
<path d="M736.6 431.7 L743 431.7" stroke="#ff2020" stroke-width="1" fill="none"/>
<path d="M738.9 434.2 L740.7 434.2" stroke="#ff2020" stroke-width="1" fill="none"/>
<text x="717.4" y="322.1" fill="#26368a" stroke="#26368a">C13</text>
<text x="750.1" y="319.5" fill="#26368a" stroke="#26368a">C_TBD_0402</text>
<text x="757.9" y="337.5" fill="#26368a" stroke="#26368a">L3</text>
<text x="777.1" y="338.7" fill="#26368a" stroke="#26368a">L_TBD_0402</text>
<text x="652.8" y="342.6" fill="#26368a" stroke="#26368a">C14</text>
<text x="675.8" y="342.6" fill="#26368a" stroke="#26368a">C_TBD_0402</text>
<text x="715.9" y="362.8" fill="#26368a" stroke="#26368a">C15</text>
<text x="656.8" y="372.6" fill="#26368a" stroke="#26368a">C_TBD_0402</text>
<text x="745.8" y="366.2" fill="#26368a" stroke="#26368a">L4</text>
<text x="744" y="375.3" fill="#26368a" stroke="#26368a">L_TBD_0402</text>
<text x="648.7" y="400.3" fill="#26368a" stroke="#26368a">C17</text>
<text x="670.6" y="401.3" fill="#26368a" stroke="#26368a">C_TBD_0402</text>
<text x="749.4" y="400.3" fill="#26368a" stroke="#26368a">C18</text>
<text x="771.1" y="401.3" fill="#26368a" stroke="#26368a">C_TBD_0402</text>
<text x="718.8" y="416.8" fill="#26368a" stroke="#26368a">L5</text>
<text x="745.8" y="419.4" fill="#26368a" stroke="#26368a">L_TBD_0402</text>
<path d="M797.2 368.6 L813.7 368.6" stroke="#8a3262" stroke-width="1.2" fill="none"/>
<path d="M813.7 368.6 L823.2 368.6" stroke="#ff2020" stroke-width="1" fill="none"/>
<path d="M823.2 361 L823.2 376.2" stroke="#3a3aff" stroke-width="1.3" fill="none"/>
<path d="M827.6 361 L827.6 376.2" stroke="#3a3aff" stroke-width="1.3" fill="none"/>
<path d="M827.6 368.6 L838.2 368.6" stroke="#ff2020" stroke-width="1" fill="none"/>
<path d="M838.2 368.6 L895.3 368.6" stroke="#8a3262" stroke-width="1.2" fill="none"/>
<path d="M895.3 368.6 L903.6 368.6" stroke="#ff2020" stroke-width="1" fill="none"/>
<circle cx="911.4" cy="368.6" r="7.7" fill="none" stroke="#3a3aff" stroke-width="1.2"/>
<path d="M908.6 368.6 l2.8 -2.6 l2.8 2.6 l-2.8 2.6z" fill="#0000ee"/>
<path d="M911.4 376.3 L911.4 385.7" stroke="#ff2020" stroke-width="1" fill="none"/>
<path d="M903 385.7 L919.8 385.7" stroke="#ff2020" stroke-width="1" fill="none"/>
<path d="M905.6 388.4 L917.2 388.4" stroke="#ff2020" stroke-width="1" fill="none"/>
<path d="M908.2 391 L914.6 391" stroke="#ff2020" stroke-width="1" fill="none"/>
<path d="M910.5 393.5 L912.3 393.5" stroke="#ff2020" stroke-width="1" fill="none"/>
<text x="928.8" y="367.2" fill="#26368a" stroke="#26368a" style="font-size:8px">RF_IN/OUT</text>
<text x="928.8" y="384.3" fill="#26368a" stroke="#26368a">J1</text>
<text x="819.7" y="356.2" fill="#26368a" stroke="#26368a">C16</text>
<text x="806.1" y="383.3" fill="#26368a" stroke="#26368a">C_TBD_0402</text>
<path d="M863.9 368.6 L863.9 408.4" stroke="#8a3262" stroke-width="1.2" fill="none"/>
<path d="M863.9 408.4 L863.9 417.4" stroke="#ff2020" stroke-width="1" fill="none"/>
<path d="M856.3 417.4 L871.5 417.4" stroke="#3a3aff" stroke-width="1.3" fill="none"/>
<path d="M856.3 421.8 L871.5 421.8" stroke="#3a3aff" stroke-width="1.3" fill="none"/>
<path d="M863.9 421.8 L863.9 432" stroke="#ff2020" stroke-width="1" fill="none"/>
<path d="M863.9 432 L863.9 568.2 L845.4 568.2" stroke="#8a3262" stroke-width="1.2" fill="none"/>
<text x="846.2" y="414" fill="#26368a" stroke="#26368a">C21</text>
<text x="868.3" y="429.4" fill="#26368a" stroke="#26368a">C_TBD_0402</text>
<path d="M654.2 568.2 L662.8 568.2" stroke="#ff2020" stroke-width="1" fill="none"/>
<path d="M662.8 568.2 a4.22 4.01 0 0 1 8.45 0 a4.22 4.01 0 0 1 8.45 0" stroke="#3a3aff" stroke-width="1.2" fill="none"/>
<path d="M679.7 568.2 L687.7 568.2" stroke="#ff2020" stroke-width="1" fill="none"/>
<path d="M718.4 568.2 L726.8 568.2" stroke="#ff2020" stroke-width="1" fill="none"/>
<path d="M726.8 568.2 a4.22 4.01 0 0 1 8.45 0 a4.22 4.01 0 0 1 8.45 0" stroke="#3a3aff" stroke-width="1.2" fill="none"/>
<path d="M743.7 568.2 L751.5 568.2" stroke="#ff2020" stroke-width="1" fill="none"/>
<path d="M785.6 568.2 L794 568.2" stroke="#ff2020" stroke-width="1" fill="none"/>
<path d="M794 568.2 a4.22 4.01 0 0 1 8.45 0 a4.22 4.01 0 0 1 8.45 0" stroke="#3a3aff" stroke-width="1.2" fill="none"/>
<path d="M810.9 568.2 L819.1 568.2" stroke="#ff2020" stroke-width="1" fill="none"/>
<path d="M819.1 568.2 L845.4 568.2" stroke="#8a3262" stroke-width="1.2" fill="none"/>
<text x="676.8" y="560.2" fill="#26368a" stroke="#26368a">L8</text>
<text x="655.2" y="578.2" fill="#26368a" stroke="#26368a">L_TBD_0402</text>
<text x="726.4" y="555.8" fill="#26368a" stroke="#26368a">L9</text>
<text x="713.3" y="576.8" fill="#26368a" stroke="#26368a">L_TBD_0402</text>
<text x="786.2" y="557" fill="#26368a" stroke="#26368a">L10</text>
<text x="780.6" y="577.2" fill="#26368a" stroke="#26368a">L_TBD_0402</text>
<path d="M643.1 568.2 L643.1 589.6" stroke="#8a3262" stroke-width="1.2" fill="none"/>
<path d="M643.1 589.6 L643.1 597.9" stroke="#ff2020" stroke-width="1" fill="none"/>
<path d="M635.5 597.9 L650.7 597.9" stroke="#3a3aff" stroke-width="1.3" fill="none"/>
<path d="M635.5 602.3 L650.7 602.3" stroke="#3a3aff" stroke-width="1.3" fill="none"/>
<path d="M643.1 602.3 L643.1 613.3" stroke="#ff2020" stroke-width="1" fill="none"/>
<path d="M634.7 613.3 L651.5 613.3" stroke="#ff2020" stroke-width="1" fill="none"/>
<path d="M637.3 616 L648.9 616" stroke="#ff2020" stroke-width="1" fill="none"/>
<path d="M639.9 618.6 L646.3 618.6" stroke="#ff2020" stroke-width="1" fill="none"/>
<path d="M642.2 621.1 L644 621.1" stroke="#ff2020" stroke-width="1" fill="none"/>
<path d="M700.3 568.2 L700.3 589.6" stroke="#8a3262" stroke-width="1.2" fill="none"/>
<path d="M700.3 589.6 L700.3 597.9" stroke="#ff2020" stroke-width="1" fill="none"/>
<path d="M692.7 597.9 L707.9 597.9" stroke="#3a3aff" stroke-width="1.3" fill="none"/>
<path d="M692.7 602.3 L707.9 602.3" stroke="#3a3aff" stroke-width="1.3" fill="none"/>
<path d="M700.3 602.3 L700.3 613.3" stroke="#ff2020" stroke-width="1" fill="none"/>
<path d="M691.9 613.3 L708.7 613.3" stroke="#ff2020" stroke-width="1" fill="none"/>
<path d="M694.5 616 L706.1 616" stroke="#ff2020" stroke-width="1" fill="none"/>
<path d="M697.1 618.6 L703.5 618.6" stroke="#ff2020" stroke-width="1" fill="none"/>
<path d="M699.4 621.1 L701.2 621.1" stroke="#ff2020" stroke-width="1" fill="none"/>
<path d="M769.5 568.2 L769.5 590.6" stroke="#8a3262" stroke-width="1.2" fill="none"/>
<path d="M769.5 590.6 L769.5 598.9" stroke="#ff2020" stroke-width="1" fill="none"/>
<path d="M761.9 598.9 L777.1 598.9" stroke="#3a3aff" stroke-width="1.3" fill="none"/>
<path d="M761.9 603.3 L777.1 603.3" stroke="#3a3aff" stroke-width="1.3" fill="none"/>
<path d="M769.5 603.3 L769.5 614.3" stroke="#ff2020" stroke-width="1" fill="none"/>
<path d="M761.1 614.3 L777.9 614.3" stroke="#ff2020" stroke-width="1" fill="none"/>
<path d="M763.7 617 L775.3 617" stroke="#ff2020" stroke-width="1" fill="none"/>
<path d="M766.3 619.6 L772.7 619.6" stroke="#ff2020" stroke-width="1" fill="none"/>
<path d="M768.6 622.1 L770.4 622.1" stroke="#ff2020" stroke-width="1" fill="none"/>
<path d="M845.4 568.2 L845.4 589" stroke="#8a3262" stroke-width="1.2" fill="none"/>
<path d="M845.4 589 L845.4 597.3" stroke="#ff2020" stroke-width="1" fill="none"/>
<path d="M837.8 597.3 L853 597.3" stroke="#3a3aff" stroke-width="1.3" fill="none"/>
<path d="M837.8 601.7 L853 601.7" stroke="#3a3aff" stroke-width="1.3" fill="none"/>
<path d="M845.4 601.7 L845.4 612.3" stroke="#ff2020" stroke-width="1" fill="none"/>
<path d="M837 612.3 L853.8 612.3" stroke="#ff2020" stroke-width="1" fill="none"/>
<path d="M839.6 615 L851.2 615" stroke="#ff2020" stroke-width="1" fill="none"/>
<path d="M842.2 617.6 L848.6 617.6" stroke="#ff2020" stroke-width="1" fill="none"/>
<path d="M844.5 620.1 L846.3 620.1" stroke="#ff2020" stroke-width="1" fill="none"/>
<text x="623.7" y="594.9" fill="#26368a" stroke="#26368a">C26</text>
<text x="587.4" y="606.9" fill="#26368a" stroke="#26368a">C_TBD_0402</text>
<text x="682.6" y="594.3" fill="#26368a" stroke="#26368a">C27</text>
<text x="702.3" y="609.9" fill="#26368a" stroke="#26368a">C_TBD_0402</text>
<text x="752.9" y="594.9" fill="#26368a" stroke="#26368a">C28</text>
<text x="772.9" y="610.7" fill="#26368a" stroke="#26368a">C_TBD_0402</text>
<text x="827.5" y="594.3" fill="#26368a" stroke="#26368a">C29</text>
<text x="849.8" y="609.3" fill="#26368a" stroke="#26368a">C_TBD_0402</text>
<path d="M769.5 568.2 L769.5 534.2 L797 534.2" stroke="#8a3262" stroke-width="1.2" fill="none"/>
<path d="M797 534.2 L806.7 534.2" stroke="#ff2020" stroke-width="1" fill="none"/>
<path d="M806.7 526.6 L806.7 541.8" stroke="#3a3aff" stroke-width="1.3" fill="none"/>
<path d="M811.1 526.6 L811.1 541.8" stroke="#3a3aff" stroke-width="1.3" fill="none"/>
<path d="M811.1 534.2 L821.7 534.2" stroke="#ff2020" stroke-width="1" fill="none"/>
<path d="M821.7 534.2 L845.4 534.2 L845.4 568.2" stroke="#8a3262" stroke-width="1.2" fill="none"/>
<text x="785.6" y="519.7" fill="#26368a" stroke="#26368a">C_TBD_0402</text>
<text x="802.7" y="548.4" fill="#26368a" stroke="#26368a">C24</text>
<path d="M396.4 634.3 L431.2 634.3" stroke="#8a3262" stroke-width="1.2" fill="none"/>
<path d="M431.2 634.3 L439.6 634.3" stroke="#ff2020" stroke-width="1" fill="none"/>
<path d="M439.6 634.3 L441 631.2 L443.8 637.8 L446.6 631.2 L449.4 637.8 L452.2 631.2 L455 637.8 L456.3 634.3" stroke="#3a3aff" stroke-width="1.2" fill="none"/>
<path d="M456.3 634.3 L463.9 634.3" stroke="#ff2020" stroke-width="1" fill="none"/>
<path d="M465.3 634.3 L557.1 634.3" stroke="#8a3262" stroke-width="1.2" fill="none"/>
<text x="401.1" y="631.7" fill="#f02222" stroke="#f02222">VSMPS2</text>
<text x="502.8" y="631.7" fill="#f02222" stroke="#f02222">VRSYNTH</text>
<text x="435.6" y="625.1" fill="#26368a" stroke="#26368a">R18</text>
<text x="455.2" y="625.1" fill="#26368a" stroke="#26368a">NM</text>
<path d="M474.4 634.3 L474.4 644.8" stroke="#ff2020" stroke-width="1" fill="none"/>
<path d="M466.8 644.8 L482 644.8" stroke="#3a3aff" stroke-width="1.3" fill="none"/>
<path d="M466.8 649.2 L482 649.2" stroke="#3a3aff" stroke-width="1.3" fill="none"/>
<path d="M474.4 649.2 L474.4 660.6" stroke="#ff2020" stroke-width="1" fill="none"/>
<path d="M474.4 660.6 L474.4 666.6" stroke="#8a3262" stroke-width="1.2" fill="none"/>
<path d="M496.7 634.3 L496.7 644.8" stroke="#ff2020" stroke-width="1" fill="none"/>
<path d="M489.1 644.8 L504.3 644.8" stroke="#3a3aff" stroke-width="1.3" fill="none"/>
<path d="M489.1 649.2 L504.3 649.2" stroke="#3a3aff" stroke-width="1.3" fill="none"/>
<path d="M496.7 649.2 L496.7 660.6" stroke="#ff2020" stroke-width="1" fill="none"/>
<path d="M496.7 660.6 L496.7 666.6" stroke="#8a3262" stroke-width="1.2" fill="none"/>
<path d="M474.4 666.6 L496.7 666.6" stroke="#8a3262" stroke-width="1.2" fill="none"/>
<path d="M486.5 666.6 L486.5 671" stroke="#8a3262" stroke-width="1.2" fill="none"/>
<path d="M486.5 671 L486.5 676.3" stroke="#ff2020" stroke-width="1" fill="none"/>
<path d="M478.1 676.3 L494.9 676.3" stroke="#ff2020" stroke-width="1" fill="none"/>
<path d="M480.7 679 L492.3 679" stroke="#ff2020" stroke-width="1" fill="none"/>
<path d="M483.3 681.6 L489.7 681.6" stroke="#ff2020" stroke-width="1" fill="none"/>
<path d="M485.6 684.1 L487.4 684.1" stroke="#ff2020" stroke-width="1" fill="none"/>
<text x="448.2" y="650.2" fill="#26368a" stroke="#26368a">C30</text>
<text x="423.7" y="659.8" fill="#26368a" stroke="#26368a">C_470n_0402</text>
<text x="512.8" y="650.2" fill="#26368a" stroke="#26368a">C31</text>
<text x="512.8" y="657.8" fill="#26368a" stroke="#26368a">C_100p_0402</text>
<circle cx="57.9" cy="78.7" r="1.7" fill="#ff00ff"/>
<circle cx="79.8" cy="78.7" r="1.7" fill="#ff00ff"/>
<circle cx="69.8" cy="111.3" r="1.7" fill="#ff00ff"/>
<circle cx="79.8" cy="111.3" r="1.7" fill="#ff00ff"/>
<circle cx="248.8" cy="78.7" r="1.7" fill="#ff00ff"/>
<circle cx="270.8" cy="78.7" r="1.7" fill="#ff00ff"/>
<circle cx="260.6" cy="111.3" r="1.7" fill="#ff00ff"/>
<circle cx="403" cy="82.3" r="1.7" fill="#ff00ff"/>
<circle cx="425.1" cy="82.3" r="1.7" fill="#ff00ff"/>
<circle cx="414.6" cy="114.9" r="1.7" fill="#ff00ff"/>
<circle cx="578.4" cy="81.5" r="1.7" fill="#ff00ff"/>
<circle cx="600.5" cy="81.5" r="1.7" fill="#ff00ff"/>
<circle cx="590.5" cy="114.1" r="1.7" fill="#ff00ff"/>
<circle cx="768.5" cy="104.3" r="1.7" fill="#ff00ff"/>
<circle cx="879.4" cy="104.3" r="1.7" fill="#ff00ff"/>
<circle cx="909.1" cy="104.3" r="1.7" fill="#ff00ff"/>
<circle cx="909.1" cy="164.1" r="1.7" fill="#ff00ff"/>
<circle cx="857.8" cy="164.1" r="1.7" fill="#ff00ff"/>
<circle cx="92.8" cy="517.81" r="1.7" fill="#ff00ff"/>
<circle cx="92.8" cy="543.52" r="1.7" fill="#ff00ff"/>
<circle cx="265.7" cy="339.6" r="1.7" fill="#ff00ff"/>
<circle cx="282.8" cy="339.6" r="1.7" fill="#ff00ff"/>
<circle cx="305.8" cy="339.6" r="1.7" fill="#ff00ff"/>
<circle cx="497.8" cy="244.8" r="1.7" fill="#ff00ff"/>
<circle cx="481.6" cy="244.8" r="1.7" fill="#ff00ff"/>
<circle cx="451.1" cy="244.8" r="1.7" fill="#ff00ff"/>
<circle cx="323.3" cy="390.5" r="1.7" fill="#ff00ff"/>
<circle cx="363.3" cy="390.5" r="1.7" fill="#ff00ff"/>
<circle cx="532.1" cy="489.7" r="1.7" fill="#ff00ff"/>
<circle cx="540.5" cy="435.9" r="1.7" fill="#ff00ff"/>
<circle cx="600.8" cy="435.9" r="1.7" fill="#ff00ff"/>
<circle cx="540.5" cy="463.8" r="1.7" fill="#ff00ff"/>
<circle cx="679.2" cy="469.2" r="1.7" fill="#ff00ff"/>
<circle cx="647.5" cy="489.7" r="1.7" fill="#ff00ff"/>
<circle cx="667" cy="489.7" r="1.7" fill="#ff00ff"/>
<circle cx="657.8" cy="520.4" r="1.7" fill="#ff00ff"/>
<circle cx="709.9" cy="351.6" r="1.7" fill="#ff00ff"/>
<circle cx="739.8" cy="351.6" r="1.7" fill="#ff00ff"/>
<circle cx="709.9" cy="386.7" r="1.7" fill="#ff00ff"/>
<circle cx="739.8" cy="386.7" r="1.7" fill="#ff00ff"/>
<circle cx="797" cy="368.6" r="1.7" fill="#ff00ff"/>
<circle cx="863.9" cy="368.6" r="1.7" fill="#ff00ff"/>
<circle cx="643.1" cy="568.2" r="1.7" fill="#ff00ff"/>
<circle cx="700.3" cy="568.2" r="1.7" fill="#ff00ff"/>
<circle cx="769.5" cy="568.2" r="1.7" fill="#ff00ff"/>
<circle cx="845.4" cy="568.2" r="1.7" fill="#ff00ff"/>
<circle cx="474.4" cy="634.3" r="1.7" fill="#ff00ff"/>
<circle cx="496.7" cy="634.3" r="1.7" fill="#ff00ff"/>
<circle cx="486.5" cy="666.6" r="1.7" fill="#ff00ff"/>
</svg>
</body></html>
